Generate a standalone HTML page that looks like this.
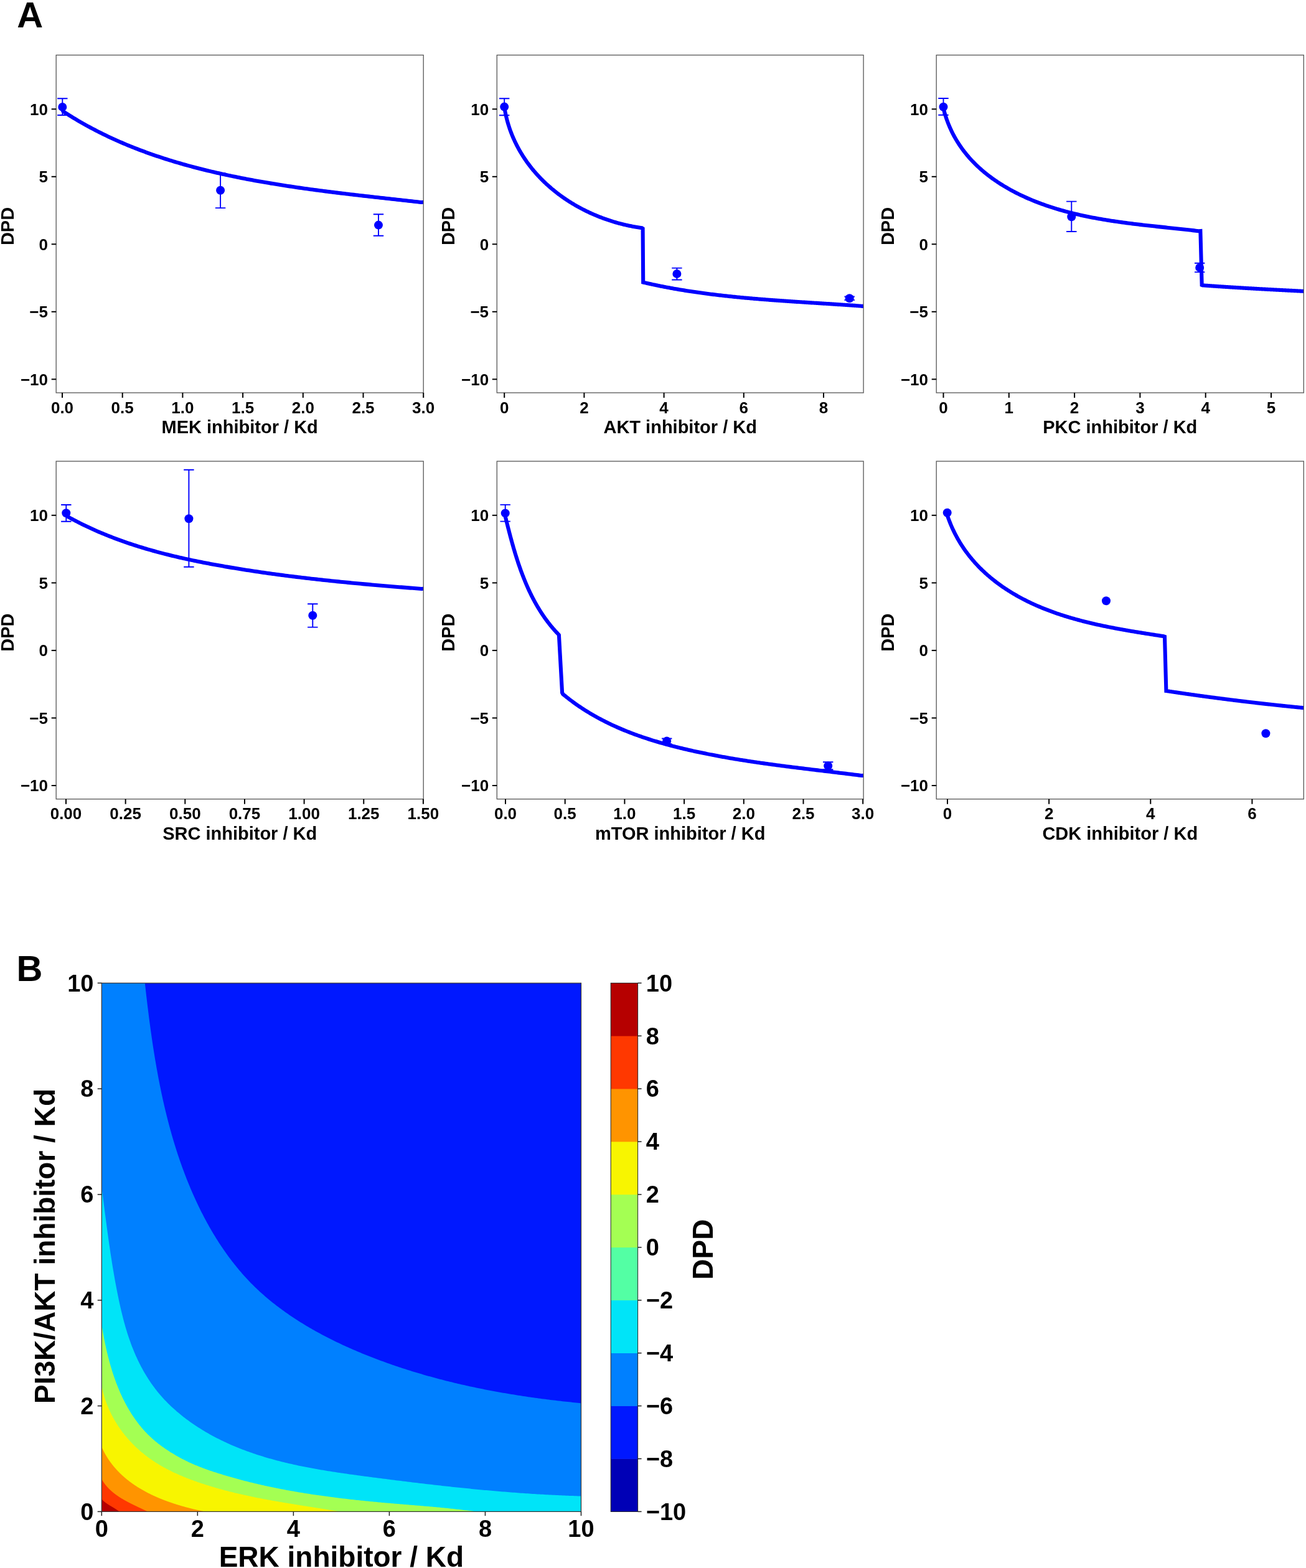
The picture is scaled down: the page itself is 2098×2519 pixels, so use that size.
<!DOCTYPE html>
<html><head><meta charset="utf-8"><title>DPD figure</title>
<style>html,body{margin:0;padding:0;background:#fff;} svg{display:block;}</style></head>
<body><svg width="2098" height="2519" viewBox="0 0 2098 2519">
<rect width="2098" height="2519" fill="#fff"/>
<g>
<clipPath id="clip00"><rect x="90.2" y="88.5" width="590" height="542.5"/></clipPath>
<path clip-path="url(#clip00)" d="M100 176 L101.43 178.92 L104.01 180.6 L106.6 182.27 L109.2 183.92 L111.8 185.56 L114.41 187.18 L117.03 188.79 L119.65 190.38 L122.28 191.96 L124.91 193.52 L127.55 195.06 L130.2 196.59 L132.86 198.11 L135.52 199.61 L138.18 201.1 L140.85 202.57 L143.53 204.03 L146.22 205.48 L148.91 206.91 L151.6 208.32 L154.3 209.72 L157.01 211.11 L159.72 212.49 L162.44 213.85 L165.17 215.2 L167.9 216.53 L170.63 217.85 L173.37 219.16 L176.12 220.45 L178.87 221.73 L181.63 223 L184.39 224.26 L187.16 225.5 L189.93 226.73 L192.7 227.94 L195.49 229.15 L198.27 230.34 L201.07 231.52 L203.86 232.69 L206.66 233.84 L209.47 234.99 L212.28 236.12 L215.09 237.24 L217.91 238.35 L220.74 239.44 L223.57 240.53 L226.4 241.6 L229.24 242.66 L232.08 243.72 L234.93 244.76 L237.78 245.78 L240.63 246.8 L243.49 247.81 L246.35 248.81 L249.22 249.79 L252.09 250.77 L254.96 251.73 L257.84 252.69 L260.72 253.63 L263.61 254.56 L266.49 255.49 L269.39 256.4 L272.28 257.31 L275.18 258.2 L278.08 259.08 L280.99 259.96 L283.9 260.82 L286.81 261.68 L289.73 262.53 L292.65 263.37 L295.57 264.19 L298.5 265.01 L301.42 265.82 L304.35 266.63 L307.29 267.42 L310.23 268.2 L313.17 268.98 L316.11 269.75 L319.05 270.51 L322 271.26 L324.95 272 L327.9 272.74 L330.86 273.46 L333.82 274.18 L336.78 274.9 L339.74 275.6 L342.7 276.3 L345.67 276.99 L348.64 277.67 L351.61 278.34 L354.58 279.01 L357.56 279.67 L360.53 280.32 L363.51 280.97 L366.49 281.61 L369.47 282.24 L372.46 282.87 L375.44 283.49 L378.43 284.1 L381.42 284.71 L384.41 285.31 L387.4 285.9 L390.4 286.49 L393.39 287.07 L396.39 287.65 L399.39 288.22 L402.39 288.78 L405.39 289.34 L408.39 289.89 L411.39 290.44 L414.4 290.98 L417.41 291.51 L420.41 292.04 L423.42 292.57 L426.43 293.09 L429.44 293.6 L432.46 294.11 L435.47 294.62 L438.48 295.11 L441.5 295.61 L444.51 296.1 L447.53 296.58 L450.55 297.06 L453.57 297.54 L456.59 298.01 L459.61 298.47 L462.63 298.93 L465.65 299.39 L468.67 299.84 L471.69 300.29 L474.72 300.74 L477.74 301.18 L480.76 301.61 L483.79 302.04 L486.81 302.47 L489.84 302.9 L492.87 303.32 L495.89 303.74 L498.92 304.15 L501.95 304.56 L504.97 304.97 L508 305.37 L511.03 305.77 L514.06 306.17 L517.08 306.57 L520.11 306.96 L523.14 307.35 L526.17 307.73 L529.19 308.11 L532.22 308.49 L535.25 308.87 L538.27 309.25 L541.3 309.62 L544.33 309.99 L547.35 310.36 L550.38 310.72 L553.41 311.09 L556.43 311.45 L559.46 311.81 L562.48 312.16 L565.5 312.52 L568.53 312.87 L571.55 313.22 L574.57 313.58 L577.59 313.92 L580.61 314.27 L583.63 314.62 L586.65 314.96 L589.67 315.3 L592.69 315.64 L595.71 315.99 L598.72 316.32 L601.74 316.66 L604.75 317 L607.77 317.34 L610.78 317.67 L613.79 318.01 L616.8 318.34 L619.81 318.68 L622.82 319.01 L625.82 319.34 L628.83 319.68 L631.83 320.01 L634.84 320.34 L637.84 320.67 L640.84 321.01 L643.83 321.34 L646.83 321.67 L649.83 322 L652.82 322.34 L655.81 322.67 L658.81 323 L661.79 323.34 L664.78 323.67 L667.77 324.01 L670.75 324.34 L673.73 324.68 L676.72 325.02 L680.2 324.8" fill="none" stroke="#0000ff" stroke-width="6.1" stroke-linejoin="miter" stroke-linecap="butt"/>
<path d="M100.3 158.3 V185 M92.1 158.3 H108.5 M92.1 185 H108.5" stroke="#0000ff" stroke-width="1.9" fill="none"/>
<circle cx="100.3" cy="171.9" r="7" fill="#0000ff"/>
<path d="M354.1 278.2 V334.1 M345.9 278.2 H362.3 M345.9 334.1 H362.3" stroke="#0000ff" stroke-width="1.9" fill="none"/>
<circle cx="354.1" cy="305.7" r="7" fill="#0000ff"/>
<path d="M608 344.2 V378.7 M599.8 344.2 H616.2 M599.8 378.7 H616.2" stroke="#0000ff" stroke-width="1.9" fill="none"/>
<circle cx="608" cy="361.6" r="7" fill="#0000ff"/>
<rect x="90.2" y="88.5" width="590" height="542.5" fill="none" stroke="#555" stroke-width="1.3"/>
<line x1="82.7" y1="175.3" x2="90.2" y2="175.3" stroke="#000" stroke-width="2"/>
<text x="77" y="184.5" text-anchor="end" style="font-family:'Liberation Sans',Arial,sans-serif;font-weight:bold;font-size:26px">10</text>
<line x1="82.7" y1="283.8" x2="90.2" y2="283.8" stroke="#000" stroke-width="2"/>
<text x="77" y="293" text-anchor="end" style="font-family:'Liberation Sans',Arial,sans-serif;font-weight:bold;font-size:26px">5</text>
<line x1="82.7" y1="392.3" x2="90.2" y2="392.3" stroke="#000" stroke-width="2"/>
<text x="77" y="401.5" text-anchor="end" style="font-family:'Liberation Sans',Arial,sans-serif;font-weight:bold;font-size:26px">0</text>
<line x1="82.7" y1="500.8" x2="90.2" y2="500.8" stroke="#000" stroke-width="2"/>
<text x="77" y="510" text-anchor="end" style="font-family:'Liberation Sans',Arial,sans-serif;font-weight:bold;font-size:26px">−5</text>
<line x1="82.7" y1="609.3" x2="90.2" y2="609.3" stroke="#000" stroke-width="2"/>
<text x="77" y="618.5" text-anchor="end" style="font-family:'Liberation Sans',Arial,sans-serif;font-weight:bold;font-size:26px">−10</text>
<line x1="100" y1="631" x2="100" y2="639" stroke="#000" stroke-width="2"/>
<text x="100" y="663.5" text-anchor="middle" style="font-family:'Liberation Sans',Arial,sans-serif;font-weight:bold;font-size:26px">0.0</text>
<line x1="196.7" y1="631" x2="196.7" y2="639" stroke="#000" stroke-width="2"/>
<text x="196.7" y="663.5" text-anchor="middle" style="font-family:'Liberation Sans',Arial,sans-serif;font-weight:bold;font-size:26px">0.5</text>
<line x1="293.4" y1="631" x2="293.4" y2="639" stroke="#000" stroke-width="2"/>
<text x="293.4" y="663.5" text-anchor="middle" style="font-family:'Liberation Sans',Arial,sans-serif;font-weight:bold;font-size:26px">1.0</text>
<line x1="390.1" y1="631" x2="390.1" y2="639" stroke="#000" stroke-width="2"/>
<text x="390.1" y="663.5" text-anchor="middle" style="font-family:'Liberation Sans',Arial,sans-serif;font-weight:bold;font-size:26px">1.5</text>
<line x1="486.8" y1="631" x2="486.8" y2="639" stroke="#000" stroke-width="2"/>
<text x="486.8" y="663.5" text-anchor="middle" style="font-family:'Liberation Sans',Arial,sans-serif;font-weight:bold;font-size:26px">2.0</text>
<line x1="583.5" y1="631" x2="583.5" y2="639" stroke="#000" stroke-width="2"/>
<text x="583.5" y="663.5" text-anchor="middle" style="font-family:'Liberation Sans',Arial,sans-serif;font-weight:bold;font-size:26px">2.5</text>
<line x1="680.2" y1="631" x2="680.2" y2="639" stroke="#000" stroke-width="2"/>
<text x="680.2" y="663.5" text-anchor="middle" style="font-family:'Liberation Sans',Arial,sans-serif;font-weight:bold;font-size:26px">3.0</text>
<text x="385.2" y="696" text-anchor="middle" style="font-family:'Liberation Sans',Arial,sans-serif;font-weight:bold;font-size:29px">MEK inhibitor / Kd</text>
<text transform="translate(22.1 363.5) rotate(-90)" text-anchor="middle" style="font-family:'Liberation Sans',Arial,sans-serif;font-weight:bold;font-size:29px">DPD</text>
</g>
<g>
<clipPath id="clip01"><rect x="798.3" y="88.5" width="588.8" height="542.5"/></clipPath>
<path clip-path="url(#clip01)" d="M810.2 175.5 L810.96 176.54 L811.25 178.15 L811.56 179.76 L811.87 181.36 L812.2 182.95 L812.55 184.54 L812.9 186.12 L813.27 187.7 L813.65 189.27 L814.04 190.84 L814.44 192.4 L814.85 193.95 L815.28 195.5 L815.72 197.05 L816.17 198.58 L816.63 200.12 L817.1 201.64 L817.59 203.17 L818.08 204.68 L818.59 206.19 L819.11 207.69 L819.64 209.19 L820.18 210.69 L820.74 212.17 L821.3 213.65 L821.87 215.13 L822.46 216.6 L823.06 218.06 L823.66 219.52 L824.28 220.97 L824.91 222.42 L825.55 223.86 L826.2 225.29 L826.86 226.72 L827.53 228.14 L828.21 229.55 L828.91 230.96 L829.61 232.37 L830.32 233.76 L831.04 235.16 L831.78 236.54 L832.52 237.92 L833.27 239.29 L834.03 240.66 L834.81 242.02 L835.59 243.37 L836.38 244.72 L837.18 246.06 L837.99 247.4 L838.82 248.73 L839.65 250.05 L840.49 251.37 L841.34 252.68 L842.19 253.98 L843.06 255.28 L843.94 256.57 L844.82 257.85 L845.72 259.13 L846.62 260.4 L847.54 261.67 L848.46 262.92 L849.39 264.18 L850.33 265.42 L851.28 266.66 L852.23 267.89 L853.2 269.12 L854.17 270.34 L855.15 271.55 L856.14 272.75 L857.14 273.95 L858.15 275.14 L859.16 276.33 L860.19 277.51 L861.22 278.68 L862.26 279.84 L863.3 281 L864.36 282.15 L865.42 283.3 L866.49 284.43 L867.57 285.56 L868.66 286.69 L869.75 287.8 L870.85 288.91 L871.96 290.02 L873.07 291.11 L874.2 292.2 L875.33 293.28 L876.47 294.36 L877.61 295.42 L878.76 296.49 L879.92 297.54 L881.09 298.58 L882.26 299.62 L883.44 300.66 L884.62 301.68 L885.82 302.7 L887.02 303.71 L888.22 304.71 L889.43 305.71 L890.65 306.69 L891.88 307.68 L893.11 308.65 L894.35 309.62 L895.59 310.57 L896.84 311.53 L898.1 312.47 L899.36 313.41 L900.63 314.34 L901.9 315.26 L903.18 316.17 L904.47 317.08 L905.76 317.98 L907.05 318.87 L908.36 319.76 L909.66 320.64 L910.98 321.51 L912.29 322.37 L913.62 323.22 L914.95 324.07 L916.28 324.91 L917.62 325.74 L918.97 326.57 L920.32 327.38 L921.67 328.19 L923.03 329 L924.39 329.79 L925.76 330.58 L927.14 331.36 L928.51 332.13 L929.9 332.89 L931.28 333.65 L932.67 334.4 L934.07 335.14 L935.47 335.87 L936.87 336.59 L938.28 337.31 L939.7 338.02 L941.11 338.72 L942.53 339.42 L943.96 340.1 L945.39 340.78 L946.82 341.45 L948.25 342.12 L949.69 342.77 L951.14 343.42 L952.58 344.06 L954.03 344.69 L955.49 345.31 L956.95 345.93 L958.41 346.54 L959.87 347.14 L961.34 347.73 L962.81 348.31 L964.28 348.89 L965.76 349.46 L967.23 350.02 L968.72 350.57 L970.2 351.11 L971.69 351.65 L973.18 352.18 L974.67 352.7 L976.16 353.21 L977.66 353.71 L979.16 354.21 L980.66 354.7 L982.17 355.18 L983.68 355.65 L985.18 356.11 L986.7 356.57 L988.21 357.01 L989.72 357.45 L991.24 357.88 L992.76 358.31 L994.28 358.72 L995.8 359.13 L997.33 359.52 L998.85 359.91 L1000.38 360.3 L1001.91 360.67 L1003.44 361.03 L1004.97 361.39 L1006.5 361.74 L1008.03 362.08 L1009.57 362.41 L1011.11 362.73 L1012.64 363.05 L1014.18 363.35 L1015.72 363.65 L1017.26 363.94 L1018.8 364.22 L1020.34 364.5 L1021.88 364.76 L1023.43 365.02 L1024.97 365.26 L1026.51 365.5 L1028.06 365.73 L1029.6 365.96 L1031.14 366.17 L1032.6 367.2 L1033.2 453.6 L1034.94 453.98 L1036.69 454.38 L1038.44 454.78 L1040.19 455.18 L1041.94 455.57 L1043.69 455.96 L1045.44 456.35 L1047.19 456.73 L1048.94 457.11 L1050.7 457.48 L1052.45 457.85 L1054.2 458.22 L1055.96 458.59 L1057.71 458.95 L1059.47 459.3 L1061.22 459.66 L1062.98 460.01 L1064.74 460.36 L1066.5 460.7 L1068.25 461.04 L1070.01 461.38 L1071.77 461.71 L1073.53 462.04 L1075.29 462.37 L1077.05 462.69 L1078.81 463.02 L1080.57 463.33 L1082.34 463.65 L1084.1 463.96 L1085.86 464.27 L1087.63 464.58 L1089.39 464.88 L1091.15 465.18 L1092.92 465.48 L1094.68 465.77 L1096.45 466.06 L1098.22 466.35 L1099.98 466.63 L1101.75 466.92 L1103.52 467.2 L1105.28 467.47 L1107.05 467.75 L1108.82 468.02 L1110.59 468.29 L1112.36 468.55 L1114.13 468.82 L1115.9 469.08 L1117.67 469.33 L1119.44 469.59 L1121.21 469.84 L1122.98 470.09 L1124.76 470.34 L1126.53 470.58 L1128.3 470.83 L1130.07 471.07 L1131.85 471.3 L1133.62 471.54 L1135.4 471.77 L1137.17 472 L1138.94 472.23 L1140.72 472.45 L1142.5 472.68 L1144.27 472.9 L1146.05 473.12 L1147.82 473.33 L1149.6 473.55 L1151.38 473.76 L1153.15 473.97 L1154.93 474.18 L1156.71 474.38 L1158.49 474.59 L1160.27 474.79 L1162.05 474.99 L1163.83 475.19 L1165.6 475.38 L1167.38 475.58 L1169.16 475.77 L1170.94 475.96 L1172.72 476.15 L1174.51 476.33 L1176.29 476.52 L1178.07 476.7 L1179.85 476.88 L1181.63 477.06 L1183.41 477.23 L1185.2 477.41 L1186.98 477.58 L1188.76 477.75 L1190.54 477.92 L1192.33 478.09 L1194.11 478.26 L1195.89 478.42 L1197.68 478.59 L1199.46 478.75 L1201.24 478.91 L1203.03 479.07 L1204.81 479.23 L1206.6 479.38 L1208.38 479.54 L1210.17 479.69 L1211.95 479.84 L1213.74 480 L1215.52 480.15 L1217.31 480.29 L1219.09 480.44 L1220.88 480.59 L1222.67 480.73 L1224.45 480.87 L1226.24 481.02 L1228.03 481.16 L1229.81 481.3 L1231.6 481.43 L1233.39 481.57 L1235.17 481.71 L1236.96 481.84 L1238.75 481.98 L1240.53 482.11 L1242.32 482.24 L1244.11 482.38 L1245.9 482.51 L1247.68 482.64 L1249.47 482.76 L1251.26 482.89 L1253.05 483.02 L1254.83 483.15 L1256.62 483.27 L1258.41 483.4 L1260.2 483.52 L1261.99 483.64 L1263.78 483.77 L1265.56 483.89 L1267.35 484.01 L1269.14 484.13 L1270.93 484.25 L1272.72 484.37 L1274.51 484.49 L1276.29 484.61 L1278.08 484.73 L1279.87 484.84 L1281.66 484.96 L1283.45 485.08 L1285.24 485.19 L1287.02 485.31 L1288.81 485.43 L1290.6 485.54 L1292.39 485.66 L1294.18 485.77 L1295.97 485.88 L1297.76 486 L1299.54 486.11 L1301.33 486.23 L1303.12 486.34 L1304.91 486.45 L1306.7 486.57 L1308.48 486.68 L1310.27 486.79 L1312.06 486.91 L1313.85 487.02 L1315.64 487.13 L1317.42 487.25 L1319.21 487.36 L1321 487.48 L1322.79 487.59 L1324.57 487.7 L1326.36 487.82 L1328.15 487.93 L1329.94 488.04 L1331.72 488.16 L1333.51 488.27 L1335.3 488.39 L1337.08 488.5 L1338.87 488.62 L1340.66 488.74 L1342.44 488.85 L1344.23 488.97 L1346.02 489.09 L1347.8 489.2 L1349.59 489.32 L1351.37 489.44 L1353.16 489.56 L1354.94 489.68 L1356.73 489.8 L1358.51 489.92 L1360.3 490.04 L1362.08 490.16 L1363.87 490.29 L1365.65 490.41 L1367.44 490.53 L1369.22 490.66 L1371 490.78 L1372.79 490.91 L1374.57 491.04 L1376.35 491.17 L1378.14 491.3 L1379.92 491.42 L1381.7 491.56 L1383.48 491.69 L1385.27 491.82 L1387.1 491.6" fill="none" stroke="#0000ff" stroke-width="6.1" stroke-linejoin="miter" stroke-linecap="butt"/>
<path d="M810.2 158.3 V185.2 M802 158.3 H818.4 M802 185.2 H818.4" stroke="#0000ff" stroke-width="1.9" fill="none"/>
<circle cx="810.2" cy="171.6" r="7" fill="#0000ff"/>
<path d="M1087.4 430.6 V449.5 M1079.2 430.6 H1095.6 M1079.2 449.5 H1095.6" stroke="#0000ff" stroke-width="1.9" fill="none"/>
<circle cx="1087.4" cy="439.9" r="7" fill="#0000ff"/>
<path d="M1364.7 476.5 V482 M1356.5 476.5 H1372.9 M1356.5 482 H1372.9" stroke="#0000ff" stroke-width="1.9" fill="none"/>
<circle cx="1364.7" cy="479.2" r="7" fill="#0000ff"/>
<rect x="798.3" y="88.5" width="588.8" height="542.5" fill="none" stroke="#555" stroke-width="1.3"/>
<line x1="790.8" y1="175.3" x2="798.3" y2="175.3" stroke="#000" stroke-width="2"/>
<text x="785.1" y="184.5" text-anchor="end" style="font-family:'Liberation Sans',Arial,sans-serif;font-weight:bold;font-size:26px">10</text>
<line x1="790.8" y1="283.8" x2="798.3" y2="283.8" stroke="#000" stroke-width="2"/>
<text x="785.1" y="293" text-anchor="end" style="font-family:'Liberation Sans',Arial,sans-serif;font-weight:bold;font-size:26px">5</text>
<line x1="790.8" y1="392.3" x2="798.3" y2="392.3" stroke="#000" stroke-width="2"/>
<text x="785.1" y="401.5" text-anchor="end" style="font-family:'Liberation Sans',Arial,sans-serif;font-weight:bold;font-size:26px">0</text>
<line x1="790.8" y1="500.8" x2="798.3" y2="500.8" stroke="#000" stroke-width="2"/>
<text x="785.1" y="510" text-anchor="end" style="font-family:'Liberation Sans',Arial,sans-serif;font-weight:bold;font-size:26px">−5</text>
<line x1="790.8" y1="609.3" x2="798.3" y2="609.3" stroke="#000" stroke-width="2"/>
<text x="785.1" y="618.5" text-anchor="end" style="font-family:'Liberation Sans',Arial,sans-serif;font-weight:bold;font-size:26px">−10</text>
<line x1="810.2" y1="631" x2="810.2" y2="639" stroke="#000" stroke-width="2"/>
<text x="810.2" y="663.5" text-anchor="middle" style="font-family:'Liberation Sans',Arial,sans-serif;font-weight:bold;font-size:26px">0</text>
<line x1="938.4" y1="631" x2="938.4" y2="639" stroke="#000" stroke-width="2"/>
<text x="938.4" y="663.5" text-anchor="middle" style="font-family:'Liberation Sans',Arial,sans-serif;font-weight:bold;font-size:26px">2</text>
<line x1="1066.6" y1="631" x2="1066.6" y2="639" stroke="#000" stroke-width="2"/>
<text x="1066.6" y="663.5" text-anchor="middle" style="font-family:'Liberation Sans',Arial,sans-serif;font-weight:bold;font-size:26px">4</text>
<line x1="1194.8" y1="631" x2="1194.8" y2="639" stroke="#000" stroke-width="2"/>
<text x="1194.8" y="663.5" text-anchor="middle" style="font-family:'Liberation Sans',Arial,sans-serif;font-weight:bold;font-size:26px">6</text>
<line x1="1323" y1="631" x2="1323" y2="639" stroke="#000" stroke-width="2"/>
<text x="1323" y="663.5" text-anchor="middle" style="font-family:'Liberation Sans',Arial,sans-serif;font-weight:bold;font-size:26px">8</text>
<text x="1092.7" y="696" text-anchor="middle" style="font-family:'Liberation Sans',Arial,sans-serif;font-weight:bold;font-size:29px">AKT inhibitor / Kd</text>
<text transform="translate(730.2 363.5) rotate(-90)" text-anchor="middle" style="font-family:'Liberation Sans',Arial,sans-serif;font-weight:bold;font-size:29px">DPD</text>
</g>
<g>
<clipPath id="clip02"><rect x="1504.2" y="88.5" width="590.1" height="542.5"/></clipPath>
<path clip-path="url(#clip02)" d="M1515.5 175.5 L1516.31 176.94 L1516.99 179.5 L1517.7 182.03 L1518.44 184.53 L1519.22 187.01 L1520.02 189.47 L1520.86 191.91 L1521.72 194.33 L1522.62 196.72 L1523.54 199.09 L1524.5 201.43 L1525.48 203.76 L1526.49 206.06 L1527.53 208.34 L1528.6 210.6 L1529.69 212.84 L1530.81 215.05 L1531.96 217.25 L1533.14 219.42 L1534.34 221.57 L1535.57 223.7 L1536.82 225.8 L1538.1 227.89 L1539.4 229.95 L1540.73 232 L1542.09 234.02 L1543.47 236.02 L1544.87 238.01 L1546.29 239.97 L1547.74 241.91 L1549.21 243.83 L1550.71 245.73 L1552.23 247.61 L1553.77 249.47 L1555.33 251.31 L1556.91 253.13 L1558.51 254.93 L1560.14 256.71 L1561.78 258.47 L1563.45 260.21 L1565.13 261.93 L1566.84 263.63 L1568.56 265.32 L1570.31 266.98 L1572.07 268.63 L1573.85 270.25 L1575.65 271.86 L1577.47 273.45 L1579.3 275.02 L1581.15 276.58 L1583.02 278.11 L1584.91 279.62 L1586.81 281.12 L1588.72 282.6 L1590.66 284.06 L1592.61 285.51 L1594.57 286.93 L1596.55 288.34 L1598.54 289.73 L1600.55 291.11 L1602.57 292.46 L1604.6 293.8 L1606.65 295.12 L1608.71 296.43 L1610.79 297.71 L1612.87 298.98 L1614.97 300.24 L1617.08 301.48 L1619.2 302.7 L1621.33 303.9 L1623.47 305.09 L1625.63 306.26 L1627.79 307.42 L1629.96 308.56 L1632.15 309.68 L1634.34 310.79 L1636.54 311.88 L1638.75 312.96 L1640.97 314.02 L1643.2 315.06 L1645.43 316.09 L1647.67 317.11 L1649.92 318.11 L1652.18 319.09 L1654.44 320.06 L1656.71 321.02 L1658.98 321.96 L1661.26 322.88 L1663.55 323.8 L1665.84 324.69 L1668.13 325.58 L1670.43 326.44 L1672.74 327.3 L1675.05 328.14 L1677.36 328.97 L1679.68 329.78 L1682 330.58 L1684.33 331.37 L1686.66 332.14 L1688.99 332.9 L1691.33 333.65 L1693.67 334.39 L1696.02 335.11 L1698.37 335.82 L1700.72 336.52 L1703.07 337.21 L1705.43 337.88 L1707.8 338.54 L1710.17 339.2 L1712.54 339.84 L1714.91 340.47 L1717.29 341.09 L1719.67 341.7 L1722.05 342.29 L1724.43 342.88 L1726.82 343.46 L1729.21 344.03 L1731.61 344.58 L1734 345.13 L1736.4 345.67 L1738.81 346.2 L1741.21 346.71 L1743.62 347.22 L1746.02 347.72 L1748.44 348.22 L1750.85 348.7 L1753.26 349.17 L1755.68 349.64 L1758.1 350.1 L1760.52 350.55 L1762.94 350.99 L1765.37 351.43 L1767.8 351.85 L1770.22 352.27 L1772.65 352.69 L1775.08 353.09 L1777.51 353.49 L1779.95 353.88 L1782.38 354.27 L1784.82 354.65 L1787.25 355.02 L1789.69 355.39 L1792.13 355.75 L1794.57 356.1 L1797.01 356.45 L1799.45 356.79 L1801.89 357.13 L1804.34 357.47 L1806.78 357.8 L1809.22 358.12 L1811.66 358.44 L1814.11 358.75 L1816.55 359.07 L1819 359.37 L1821.44 359.67 L1823.88 359.97 L1826.33 360.27 L1828.77 360.56 L1831.22 360.85 L1833.66 361.13 L1836.1 361.42 L1838.54 361.7 L1840.99 361.97 L1843.43 362.25 L1845.87 362.52 L1848.31 362.79 L1850.75 363.06 L1853.19 363.32 L1855.62 363.59 L1858.06 363.85 L1860.49 364.11 L1862.93 364.37 L1865.36 364.63 L1867.79 364.89 L1870.22 365.15 L1872.65 365.4 L1875.08 365.66 L1877.5 365.92 L1879.93 366.17 L1882.35 366.43 L1884.77 366.69 L1887.19 366.94 L1889.6 367.2 L1892.02 367.46 L1894.43 367.72 L1896.84 367.98 L1899.25 368.24 L1901.65 368.5 L1904.06 368.77 L1906.46 369.03 L1908.86 369.3 L1911.25 369.57 L1913.65 369.84 L1916.04 370.12 L1918.42 370.4 L1920.81 370.68 L1923.19 370.96 L1925.57 371.24 L1928.4 371 L1930.7 458 L1931.5 458.31 L1932.32 458.37 L1933.14 458.43 L1933.96 458.49 L1934.78 458.55 L1935.61 458.61 L1936.43 458.67 L1937.25 458.73 L1938.07 458.79 L1938.89 458.85 L1939.71 458.91 L1940.53 458.97 L1941.35 459.03 L1942.17 459.09 L1943 459.14 L1943.82 459.2 L1944.64 459.26 L1945.46 459.32 L1946.28 459.38 L1947.1 459.43 L1947.92 459.49 L1948.75 459.55 L1949.57 459.6 L1950.39 459.66 L1951.21 459.72 L1952.03 459.77 L1952.85 459.83 L1953.67 459.89 L1954.5 459.94 L1955.32 460 L1956.14 460.06 L1956.96 460.11 L1957.78 460.17 L1958.6 460.22 L1959.43 460.28 L1960.25 460.33 L1961.07 460.39 L1961.89 460.44 L1962.71 460.49 L1963.53 460.55 L1964.36 460.6 L1965.18 460.66 L1966 460.71 L1966.82 460.76 L1967.64 460.82 L1968.46 460.87 L1969.29 460.93 L1970.11 460.98 L1970.93 461.03 L1971.75 461.08 L1972.57 461.14 L1973.4 461.19 L1974.22 461.24 L1975.04 461.29 L1975.86 461.35 L1976.68 461.4 L1977.51 461.45 L1978.33 461.5 L1979.15 461.55 L1979.97 461.6 L1980.79 461.66 L1981.62 461.71 L1982.44 461.76 L1983.26 461.81 L1984.08 461.86 L1984.9 461.91 L1985.73 461.96 L1986.55 462.01 L1987.37 462.06 L1988.19 462.11 L1989.02 462.16 L1989.84 462.21 L1990.66 462.26 L1991.48 462.31 L1992.3 462.36 L1993.13 462.41 L1993.95 462.46 L1994.77 462.51 L1995.59 462.56 L1996.42 462.61 L1997.24 462.66 L1998.06 462.7 L1998.88 462.75 L1999.71 462.8 L2000.53 462.85 L2001.35 462.9 L2002.17 462.95 L2002.99 462.99 L2003.82 463.04 L2004.64 463.09 L2005.46 463.14 L2006.28 463.19 L2007.11 463.23 L2007.93 463.28 L2008.75 463.33 L2009.57 463.38 L2010.4 463.42 L2011.22 463.47 L2012.04 463.52 L2012.86 463.56 L2013.69 463.61 L2014.51 463.66 L2015.33 463.7 L2016.15 463.75 L2016.98 463.8 L2017.8 463.84 L2018.62 463.89 L2019.44 463.94 L2020.27 463.98 L2021.09 464.03 L2021.91 464.07 L2022.73 464.12 L2023.56 464.17 L2024.38 464.21 L2025.2 464.26 L2026.02 464.3 L2026.85 464.35 L2027.67 464.39 L2028.49 464.44 L2029.31 464.48 L2030.14 464.53 L2030.96 464.57 L2031.78 464.62 L2032.6 464.66 L2033.43 464.71 L2034.25 464.75 L2035.07 464.8 L2035.9 464.84 L2036.72 464.89 L2037.54 464.93 L2038.36 464.97 L2039.19 465.02 L2040.01 465.06 L2040.83 465.11 L2041.65 465.15 L2042.48 465.2 L2043.3 465.24 L2044.12 465.28 L2044.94 465.33 L2045.77 465.37 L2046.59 465.42 L2047.41 465.46 L2048.23 465.5 L2049.06 465.55 L2049.88 465.59 L2050.7 465.63 L2051.52 465.68 L2052.35 465.72 L2053.17 465.76 L2053.99 465.81 L2054.81 465.85 L2055.64 465.89 L2056.46 465.94 L2057.28 465.98 L2058.11 466.02 L2058.93 466.07 L2059.75 466.11 L2060.57 466.15 L2061.4 466.19 L2062.22 466.24 L2063.04 466.28 L2063.86 466.32 L2064.69 466.37 L2065.51 466.41 L2066.33 466.45 L2067.15 466.49 L2067.98 466.54 L2068.8 466.58 L2069.62 466.62 L2070.44 466.66 L2071.27 466.71 L2072.09 466.75 L2072.91 466.79 L2073.73 466.83 L2074.56 466.88 L2075.38 466.92 L2076.2 466.96 L2077.02 467 L2077.85 467.05 L2078.67 467.09 L2079.49 467.13 L2080.31 467.17 L2081.14 467.22 L2081.96 467.26 L2082.78 467.3 L2083.6 467.34 L2084.43 467.38 L2085.25 467.43 L2086.07 467.47 L2086.89 467.51 L2087.72 467.55 L2088.54 467.59 L2089.36 467.64 L2090.18 467.68 L2091 467.72 L2091.83 467.76 L2092.65 467.81 L2093.47 467.85 L2094.3 467.8" fill="none" stroke="#0000ff" stroke-width="6.1" stroke-linejoin="miter" stroke-linecap="butt"/>
<path d="M1515.5 158 V184.7 M1507.3 158 H1523.7 M1507.3 184.7 H1523.7" stroke="#0000ff" stroke-width="1.9" fill="none"/>
<circle cx="1515.5" cy="171.7" r="7" fill="#0000ff"/>
<path d="M1721.3 323.6 V372 M1713.1 323.6 H1729.5 M1713.1 372 H1729.5" stroke="#0000ff" stroke-width="1.9" fill="none"/>
<circle cx="1721.3" cy="348.3" r="7" fill="#0000ff"/>
<path d="M1927.2 422.7 V437.1 M1919 422.7 H1935.4 M1919 437.1 H1935.4" stroke="#0000ff" stroke-width="1.9" fill="none"/>
<circle cx="1927.2" cy="429.9" r="7" fill="#0000ff"/>
<rect x="1504.2" y="88.5" width="590.1" height="542.5" fill="none" stroke="#555" stroke-width="1.3"/>
<line x1="1496.7" y1="175.3" x2="1504.2" y2="175.3" stroke="#000" stroke-width="2"/>
<text x="1491" y="184.5" text-anchor="end" style="font-family:'Liberation Sans',Arial,sans-serif;font-weight:bold;font-size:26px">10</text>
<line x1="1496.7" y1="283.8" x2="1504.2" y2="283.8" stroke="#000" stroke-width="2"/>
<text x="1491" y="293" text-anchor="end" style="font-family:'Liberation Sans',Arial,sans-serif;font-weight:bold;font-size:26px">5</text>
<line x1="1496.7" y1="392.3" x2="1504.2" y2="392.3" stroke="#000" stroke-width="2"/>
<text x="1491" y="401.5" text-anchor="end" style="font-family:'Liberation Sans',Arial,sans-serif;font-weight:bold;font-size:26px">0</text>
<line x1="1496.7" y1="500.8" x2="1504.2" y2="500.8" stroke="#000" stroke-width="2"/>
<text x="1491" y="510" text-anchor="end" style="font-family:'Liberation Sans',Arial,sans-serif;font-weight:bold;font-size:26px">−5</text>
<line x1="1496.7" y1="609.3" x2="1504.2" y2="609.3" stroke="#000" stroke-width="2"/>
<text x="1491" y="618.5" text-anchor="end" style="font-family:'Liberation Sans',Arial,sans-serif;font-weight:bold;font-size:26px">−10</text>
<line x1="1515.5" y1="631" x2="1515.5" y2="639" stroke="#000" stroke-width="2"/>
<text x="1515.5" y="663.5" text-anchor="middle" style="font-family:'Liberation Sans',Arial,sans-serif;font-weight:bold;font-size:26px">0</text>
<line x1="1620.8" y1="631" x2="1620.8" y2="639" stroke="#000" stroke-width="2"/>
<text x="1620.8" y="663.5" text-anchor="middle" style="font-family:'Liberation Sans',Arial,sans-serif;font-weight:bold;font-size:26px">1</text>
<line x1="1726.1" y1="631" x2="1726.1" y2="639" stroke="#000" stroke-width="2"/>
<text x="1726.1" y="663.5" text-anchor="middle" style="font-family:'Liberation Sans',Arial,sans-serif;font-weight:bold;font-size:26px">2</text>
<line x1="1831.4" y1="631" x2="1831.4" y2="639" stroke="#000" stroke-width="2"/>
<text x="1831.4" y="663.5" text-anchor="middle" style="font-family:'Liberation Sans',Arial,sans-serif;font-weight:bold;font-size:26px">3</text>
<line x1="1936.7" y1="631" x2="1936.7" y2="639" stroke="#000" stroke-width="2"/>
<text x="1936.7" y="663.5" text-anchor="middle" style="font-family:'Liberation Sans',Arial,sans-serif;font-weight:bold;font-size:26px">4</text>
<line x1="2042" y1="631" x2="2042" y2="639" stroke="#000" stroke-width="2"/>
<text x="2042" y="663.5" text-anchor="middle" style="font-family:'Liberation Sans',Arial,sans-serif;font-weight:bold;font-size:26px">5</text>
<text x="1799.25" y="696" text-anchor="middle" style="font-family:'Liberation Sans',Arial,sans-serif;font-weight:bold;font-size:29px">PKC inhibitor / Kd</text>
<text transform="translate(1436.1 363.5) rotate(-90)" text-anchor="middle" style="font-family:'Liberation Sans',Arial,sans-serif;font-weight:bold;font-size:29px">DPD</text>
</g>
<g>
<clipPath id="clip10"><rect x="90.2" y="741" width="590" height="542.7"/></clipPath>
<path clip-path="url(#clip10)" d="M106 828 L108.24 829.69 L110.87 831.14 L113.49 832.58 L116.13 834 L118.77 835.4 L121.41 836.79 L124.07 838.16 L126.72 839.52 L129.39 840.86 L132.06 842.18 L134.73 843.49 L137.41 844.78 L140.1 846.06 L142.79 847.33 L145.48 848.57 L148.18 849.81 L150.89 851.03 L153.6 852.23 L156.32 853.42 L159.04 854.6 L161.77 855.76 L164.5 856.91 L167.24 858.04 L169.98 859.16 L172.73 860.27 L175.48 861.36 L178.24 862.45 L181 863.51 L183.76 864.57 L186.53 865.61 L189.3 866.64 L192.08 867.65 L194.87 868.66 L197.65 869.65 L200.44 870.63 L203.24 871.59 L206.04 872.55 L208.84 873.49 L211.65 874.43 L214.46 875.35 L217.27 876.25 L220.09 877.15 L222.91 878.04 L225.74 878.91 L228.57 879.78 L231.4 880.63 L234.24 881.47 L237.08 882.31 L239.92 883.13 L242.77 883.94 L245.62 884.74 L248.47 885.54 L251.33 886.32 L254.18 887.09 L257.05 887.86 L259.91 888.61 L262.78 889.35 L265.65 890.09 L268.52 890.82 L271.4 891.53 L274.28 892.24 L277.16 892.94 L280.04 893.64 L282.93 894.32 L285.81 895 L288.7 895.66 L291.6 896.32 L294.49 896.97 L297.39 897.62 L300.29 898.25 L303.19 898.88 L306.09 899.51 L309 900.12 L311.91 900.73 L314.81 901.33 L317.72 901.92 L320.64 902.51 L323.55 903.09 L326.46 903.67 L329.38 904.24 L332.3 904.8 L335.22 905.36 L338.14 905.91 L341.06 906.46 L343.98 907 L346.91 907.53 L349.83 908.06 L352.76 908.58 L355.69 909.1 L358.62 909.62 L361.55 910.13 L364.47 910.63 L367.41 911.13 L370.34 911.63 L373.27 912.12 L376.2 912.61 L379.13 913.09 L382.07 913.57 L385 914.05 L387.94 914.52 L390.87 914.99 L393.81 915.45 L396.75 915.91 L399.68 916.36 L402.62 916.81 L405.56 917.26 L408.5 917.7 L411.44 918.14 L414.38 918.58 L417.32 919.01 L420.26 919.43 L423.2 919.86 L426.15 920.28 L429.09 920.69 L432.03 921.11 L434.98 921.51 L437.92 921.92 L440.87 922.32 L443.81 922.72 L446.76 923.11 L449.71 923.5 L452.65 923.89 L455.6 924.28 L458.55 924.66 L461.49 925.03 L464.44 925.41 L467.39 925.78 L470.34 926.15 L473.29 926.51 L476.24 926.87 L479.19 927.23 L482.14 927.59 L485.09 927.94 L488.04 928.29 L491 928.64 L493.95 928.98 L496.9 929.32 L499.85 929.66 L502.8 929.99 L505.76 930.32 L508.71 930.65 L511.66 930.98 L514.62 931.3 L517.57 931.62 L520.53 931.94 L523.48 932.26 L526.43 932.57 L529.39 932.88 L532.34 933.19 L535.3 933.5 L538.25 933.8 L541.21 934.1 L544.17 934.4 L547.12 934.7 L550.08 934.99 L553.03 935.28 L555.99 935.57 L558.95 935.86 L561.9 936.15 L564.86 936.43 L567.81 936.71 L570.77 936.99 L573.73 937.27 L576.68 937.54 L579.64 937.81 L582.6 938.09 L585.55 938.36 L588.51 938.62 L591.47 938.89 L594.42 939.15 L597.38 939.42 L600.34 939.68 L603.29 939.94 L606.25 940.19 L609.2 940.45 L612.16 940.7 L615.12 940.96 L618.07 941.21 L621.03 941.46 L623.99 941.71 L626.94 941.95 L629.9 942.2 L632.85 942.44 L635.81 942.69 L638.76 942.93 L641.72 943.17 L644.67 943.41 L647.63 943.65 L650.58 943.89 L653.54 944.12 L656.49 944.36 L659.44 944.59 L662.4 944.83 L665.35 945.06 L668.3 945.29 L671.26 945.52 L674.21 945.75 L677.16 945.98 L680.2 945.8" fill="none" stroke="#0000ff" stroke-width="6.1" stroke-linejoin="miter" stroke-linecap="butt"/>
<path d="M106.3 811 V837.8 M98.1 811 H114.5 M98.1 837.8 H114.5" stroke="#0000ff" stroke-width="1.9" fill="none"/>
<circle cx="106.3" cy="824.2" r="7" fill="#0000ff"/>
<path d="M303.4 754.8 V910.8 M295.2 754.8 H311.6 M295.2 910.8 H311.6" stroke="#0000ff" stroke-width="1.9" fill="none"/>
<circle cx="303.4" cy="833.3" r="7" fill="#0000ff"/>
<path d="M502.3 970.2 V1007.6 M494.1 970.2 H510.5 M494.1 1007.6 H510.5" stroke="#0000ff" stroke-width="1.9" fill="none"/>
<circle cx="502.3" cy="988.7" r="7" fill="#0000ff"/>
<rect x="90.2" y="741" width="590" height="542.7" fill="none" stroke="#555" stroke-width="1.3"/>
<line x1="82.7" y1="827.83" x2="90.2" y2="827.83" stroke="#000" stroke-width="2"/>
<text x="77" y="837.03" text-anchor="end" style="font-family:'Liberation Sans',Arial,sans-serif;font-weight:bold;font-size:26px">10</text>
<line x1="82.7" y1="936.37" x2="90.2" y2="936.37" stroke="#000" stroke-width="2"/>
<text x="77" y="945.57" text-anchor="end" style="font-family:'Liberation Sans',Arial,sans-serif;font-weight:bold;font-size:26px">5</text>
<line x1="82.7" y1="1044.91" x2="90.2" y2="1044.91" stroke="#000" stroke-width="2"/>
<text x="77" y="1054.11" text-anchor="end" style="font-family:'Liberation Sans',Arial,sans-serif;font-weight:bold;font-size:26px">0</text>
<line x1="82.7" y1="1153.45" x2="90.2" y2="1153.45" stroke="#000" stroke-width="2"/>
<text x="77" y="1162.65" text-anchor="end" style="font-family:'Liberation Sans',Arial,sans-serif;font-weight:bold;font-size:26px">−5</text>
<line x1="82.7" y1="1261.99" x2="90.2" y2="1261.99" stroke="#000" stroke-width="2"/>
<text x="77" y="1271.19" text-anchor="end" style="font-family:'Liberation Sans',Arial,sans-serif;font-weight:bold;font-size:26px">−10</text>
<line x1="106" y1="1283.7" x2="106" y2="1291.7" stroke="#000" stroke-width="2"/>
<text x="106" y="1316.2" text-anchor="middle" style="font-family:'Liberation Sans',Arial,sans-serif;font-weight:bold;font-size:26px">0.00</text>
<line x1="201.65" y1="1283.7" x2="201.65" y2="1291.7" stroke="#000" stroke-width="2"/>
<text x="201.65" y="1316.2" text-anchor="middle" style="font-family:'Liberation Sans',Arial,sans-serif;font-weight:bold;font-size:26px">0.25</text>
<line x1="297.3" y1="1283.7" x2="297.3" y2="1291.7" stroke="#000" stroke-width="2"/>
<text x="297.3" y="1316.2" text-anchor="middle" style="font-family:'Liberation Sans',Arial,sans-serif;font-weight:bold;font-size:26px">0.50</text>
<line x1="392.95" y1="1283.7" x2="392.95" y2="1291.7" stroke="#000" stroke-width="2"/>
<text x="392.95" y="1316.2" text-anchor="middle" style="font-family:'Liberation Sans',Arial,sans-serif;font-weight:bold;font-size:26px">0.75</text>
<line x1="488.6" y1="1283.7" x2="488.6" y2="1291.7" stroke="#000" stroke-width="2"/>
<text x="488.6" y="1316.2" text-anchor="middle" style="font-family:'Liberation Sans',Arial,sans-serif;font-weight:bold;font-size:26px">1.00</text>
<line x1="584.25" y1="1283.7" x2="584.25" y2="1291.7" stroke="#000" stroke-width="2"/>
<text x="584.25" y="1316.2" text-anchor="middle" style="font-family:'Liberation Sans',Arial,sans-serif;font-weight:bold;font-size:26px">1.25</text>
<line x1="679.9" y1="1283.7" x2="679.9" y2="1291.7" stroke="#000" stroke-width="2"/>
<text x="679.9" y="1316.2" text-anchor="middle" style="font-family:'Liberation Sans',Arial,sans-serif;font-weight:bold;font-size:26px">1.50</text>
<text x="385.2" y="1348.7" text-anchor="middle" style="font-family:'Liberation Sans',Arial,sans-serif;font-weight:bold;font-size:29px">SRC inhibitor / Kd</text>
<text transform="translate(22.1 1016.1) rotate(-90)" text-anchor="middle" style="font-family:'Liberation Sans',Arial,sans-serif;font-weight:bold;font-size:29px">DPD</text>
</g>
<g>
<clipPath id="clip11"><rect x="798.3" y="741" width="588.8" height="542.7"/></clipPath>
<path clip-path="url(#clip11)" d="M812 828 L811.6 829.18 L811.85 830.2 L812.1 831.23 L812.36 832.26 L812.61 833.28 L812.86 834.31 L813.12 835.34 L813.37 836.36 L813.63 837.39 L813.88 838.42 L814.14 839.45 L814.4 840.48 L814.66 841.51 L814.91 842.54 L815.17 843.57 L815.43 844.61 L815.69 845.64 L815.96 846.67 L816.22 847.7 L816.48 848.74 L816.75 849.77 L817.01 850.8 L817.28 851.84 L817.54 852.87 L817.81 853.91 L818.08 854.94 L818.35 855.97 L818.62 857.01 L818.89 858.04 L819.16 859.08 L819.44 860.11 L819.71 861.15 L819.99 862.19 L820.27 863.22 L820.54 864.26 L820.82 865.29 L821.1 866.33 L821.39 867.36 L821.67 868.4 L821.95 869.43 L822.24 870.47 L822.53 871.5 L822.81 872.54 L823.1 873.57 L823.4 874.61 L823.69 875.64 L823.98 876.68 L824.28 877.71 L824.57 878.74 L824.87 879.78 L825.17 880.81 L825.47 881.84 L825.78 882.88 L826.08 883.91 L826.39 884.94 L826.69 885.97 L827 887 L827.31 888.03 L827.62 889.06 L827.94 890.09 L828.25 891.12 L828.57 892.15 L828.89 893.18 L829.21 894.21 L829.54 895.24 L829.86 896.26 L830.19 897.29 L830.52 898.31 L830.85 899.34 L831.18 900.36 L831.51 901.39 L831.85 902.41 L832.19 903.43 L832.53 904.45 L832.87 905.47 L833.21 906.49 L833.56 907.51 L833.91 908.53 L834.26 909.55 L834.61 910.57 L834.97 911.58 L835.32 912.6 L835.68 913.61 L836.04 914.62 L836.41 915.64 L836.77 916.65 L837.14 917.66 L837.51 918.67 L837.88 919.68 L838.26 920.68 L838.64 921.69 L839.02 922.69 L839.4 923.7 L839.78 924.7 L840.17 925.7 L840.56 926.7 L840.95 927.7 L841.35 928.7 L841.74 929.7 L842.14 930.7 L842.55 931.69 L842.95 932.68 L843.36 933.68 L843.77 934.67 L844.18 935.66 L844.6 936.65 L845.01 937.63 L845.44 938.62 L845.86 939.6 L846.29 940.58 L846.71 941.57 L847.15 942.55 L847.58 943.52 L848.02 944.5 L848.46 945.48 L848.9 946.45 L849.35 947.42 L849.8 948.39 L850.25 949.36 L850.71 950.33 L851.17 951.3 L851.63 952.26 L852.09 953.22 L852.56 954.18 L853.03 955.14 L853.51 956.1 L853.98 957.06 L854.46 958.01 L854.95 958.96 L855.43 959.91 L855.92 960.86 L856.42 961.81 L856.91 962.75 L857.41 963.7 L857.92 964.64 L858.42 965.58 L858.93 966.52 L859.45 967.45 L859.96 968.38 L860.48 969.32 L861.01 970.25 L861.53 971.17 L862.06 972.1 L862.6 973.02 L863.13 973.94 L863.68 974.86 L864.22 975.78 L864.77 976.69 L865.32 977.61 L865.88 978.52 L866.44 979.43 L867 980.33 L867.56 981.24 L868.14 982.14 L868.71 983.04 L869.29 983.93 L869.87 984.83 L870.45 985.72 L871.04 986.61 L871.64 987.5 L872.23 988.38 L872.84 989.27 L873.44 990.15 L874.05 991.03 L874.66 991.9 L875.28 992.77 L875.9 993.65 L876.52 994.51 L877.15 995.38 L877.79 996.24 L878.42 997.1 L879.07 997.96 L879.71 998.82 L880.36 999.67 L881.01 1000.52 L881.67 1001.37 L882.33 1002.21 L883 1003.05 L883.67 1003.89 L884.35 1004.73 L885.03 1005.56 L885.71 1006.39 L886.4 1007.22 L887.09 1008.04 L887.79 1008.87 L888.49 1009.69 L889.19 1010.5 L889.9 1011.32 L890.62 1012.13 L891.34 1012.94 L892.06 1013.74 L892.79 1014.54 L893.52 1015.34 L894.26 1016.14 L895 1016.93 L895.75 1017.72 L896.5 1018.51 L897.26 1019.29 L897.9 1020.1 L903.1 1112.8 L904.36 1115.17 L906.38 1116.83 L908.4 1118.48 L910.44 1120.1 L912.48 1121.71 L914.53 1123.3 L916.59 1124.87 L918.66 1126.42 L920.74 1127.95 L922.83 1129.47 L924.93 1130.96 L927.04 1132.44 L929.15 1133.91 L931.28 1135.35 L933.41 1136.78 L935.55 1138.19 L937.7 1139.58 L939.86 1140.96 L942.02 1142.32 L944.2 1143.66 L946.38 1144.99 L948.57 1146.3 L950.77 1147.6 L952.97 1148.88 L955.19 1150.14 L957.41 1151.39 L959.63 1152.62 L961.87 1153.84 L964.11 1155.04 L966.36 1156.23 L968.62 1157.4 L970.88 1158.56 L973.15 1159.71 L975.43 1160.84 L977.71 1161.95 L980 1163.05 L982.3 1164.14 L984.6 1165.21 L986.91 1166.27 L989.23 1167.32 L991.55 1168.35 L993.88 1169.37 L996.21 1170.38 L998.55 1171.37 L1000.9 1172.35 L1003.25 1173.32 L1005.6 1174.28 L1007.97 1175.22 L1010.33 1176.16 L1012.71 1177.08 L1015.08 1177.98 L1017.47 1178.88 L1019.85 1179.77 L1022.25 1180.64 L1024.64 1181.5 L1027.04 1182.35 L1029.45 1183.2 L1031.86 1184.03 L1034.28 1184.84 L1036.7 1185.65 L1039.12 1186.45 L1041.55 1187.24 L1043.98 1188.02 L1046.41 1188.79 L1048.85 1189.55 L1051.3 1190.3 L1053.74 1191.03 L1056.19 1191.77 L1058.65 1192.49 L1061.11 1193.2 L1063.57 1193.9 L1066.03 1194.6 L1068.5 1195.28 L1070.97 1195.96 L1073.44 1196.63 L1075.91 1197.29 L1078.39 1197.95 L1080.87 1198.59 L1083.35 1199.23 L1085.84 1199.86 L1088.33 1200.49 L1090.82 1201.1 L1093.31 1201.71 L1095.8 1202.32 L1098.3 1202.91 L1100.8 1203.5 L1103.29 1204.09 L1105.8 1204.66 L1108.3 1205.23 L1110.8 1205.8 L1113.31 1206.36 L1115.81 1206.91 L1118.32 1207.45 L1120.83 1208 L1123.35 1208.53 L1125.86 1209.06 L1128.37 1209.58 L1130.89 1210.1 L1133.4 1210.61 L1135.92 1211.12 L1138.44 1211.62 L1140.96 1212.12 L1143.48 1212.61 L1146.01 1213.1 L1148.53 1213.58 L1151.06 1214.05 L1153.58 1214.53 L1156.11 1214.99 L1158.64 1215.45 L1161.17 1215.91 L1163.7 1216.36 L1166.23 1216.81 L1168.76 1217.25 L1171.3 1217.69 L1173.83 1218.13 L1176.36 1218.56 L1178.9 1218.98 L1181.44 1219.41 L1183.97 1219.82 L1186.51 1220.24 L1189.05 1220.65 L1191.59 1221.05 L1194.13 1221.46 L1196.67 1221.85 L1199.21 1222.25 L1201.75 1222.64 L1204.29 1223.03 L1206.84 1223.41 L1209.38 1223.79 L1211.92 1224.17 L1214.46 1224.55 L1217.01 1224.92 L1219.55 1225.29 L1222.1 1225.65 L1224.64 1226.01 L1227.19 1226.37 L1229.73 1226.73 L1232.28 1227.08 L1234.82 1227.44 L1237.37 1227.78 L1239.92 1228.13 L1242.46 1228.47 L1245.01 1228.82 L1247.55 1229.16 L1250.1 1229.49 L1252.65 1229.83 L1255.19 1230.16 L1257.74 1230.49 L1260.28 1230.82 L1262.83 1231.15 L1265.38 1231.47 L1267.92 1231.8 L1270.47 1232.12 L1273.01 1232.44 L1275.55 1232.76 L1278.1 1233.07 L1280.64 1233.39 L1283.19 1233.7 L1285.73 1234.02 L1288.27 1234.33 L1290.81 1234.64 L1293.35 1234.95 L1295.9 1235.26 L1298.44 1235.57 L1300.98 1235.88 L1303.51 1236.18 L1306.05 1236.49 L1308.59 1236.79 L1311.13 1237.1 L1313.66 1237.4 L1316.2 1237.71 L1318.74 1238.01 L1321.27 1238.32 L1323.8 1238.62 L1326.34 1238.92 L1328.87 1239.23 L1331.4 1239.53 L1333.93 1239.83 L1336.46 1240.14 L1338.98 1240.44 L1341.51 1240.74 L1344.03 1241.05 L1346.56 1241.35 L1349.08 1241.66 L1351.6 1241.97 L1354.13 1242.27 L1356.64 1242.58 L1359.16 1242.89 L1361.68 1243.2 L1364.2 1243.51 L1366.71 1243.82 L1369.22 1244.13 L1371.74 1244.45 L1374.25 1244.76 L1376.75 1245.08 L1379.26 1245.4 L1381.77 1245.72 L1384.27 1246.04 L1387.1 1245.9" fill="none" stroke="#0000ff" stroke-width="6.1" stroke-linejoin="miter" stroke-linecap="butt"/>
<path d="M811.7 810.9 V837.6 M803.5 810.9 H819.9 M803.5 837.6 H819.9" stroke="#0000ff" stroke-width="1.9" fill="none"/>
<circle cx="811.7" cy="824.4" r="7" fill="#0000ff"/>
<path d="M1071.2 1186.5 V1195.1 M1063 1186.5 H1079.4 M1063 1195.1 H1079.4" stroke="#0000ff" stroke-width="1.9" fill="none"/>
<circle cx="1071.2" cy="1190.6" r="7" fill="#0000ff"/>
<path d="M1330.2 1224.3 V1236.3 M1322 1224.3 H1338.4 M1322 1236.3 H1338.4" stroke="#0000ff" stroke-width="1.9" fill="none"/>
<circle cx="1330.2" cy="1230.4" r="7" fill="#0000ff"/>
<rect x="798.3" y="741" width="588.8" height="542.7" fill="none" stroke="#555" stroke-width="1.3"/>
<line x1="790.8" y1="827.83" x2="798.3" y2="827.83" stroke="#000" stroke-width="2"/>
<text x="785.1" y="837.03" text-anchor="end" style="font-family:'Liberation Sans',Arial,sans-serif;font-weight:bold;font-size:26px">10</text>
<line x1="790.8" y1="936.37" x2="798.3" y2="936.37" stroke="#000" stroke-width="2"/>
<text x="785.1" y="945.57" text-anchor="end" style="font-family:'Liberation Sans',Arial,sans-serif;font-weight:bold;font-size:26px">5</text>
<line x1="790.8" y1="1044.91" x2="798.3" y2="1044.91" stroke="#000" stroke-width="2"/>
<text x="785.1" y="1054.11" text-anchor="end" style="font-family:'Liberation Sans',Arial,sans-serif;font-weight:bold;font-size:26px">0</text>
<line x1="790.8" y1="1153.45" x2="798.3" y2="1153.45" stroke="#000" stroke-width="2"/>
<text x="785.1" y="1162.65" text-anchor="end" style="font-family:'Liberation Sans',Arial,sans-serif;font-weight:bold;font-size:26px">−5</text>
<line x1="790.8" y1="1261.99" x2="798.3" y2="1261.99" stroke="#000" stroke-width="2"/>
<text x="785.1" y="1271.19" text-anchor="end" style="font-family:'Liberation Sans',Arial,sans-serif;font-weight:bold;font-size:26px">−10</text>
<line x1="812" y1="1283.7" x2="812" y2="1291.7" stroke="#000" stroke-width="2"/>
<text x="812" y="1316.2" text-anchor="middle" style="font-family:'Liberation Sans',Arial,sans-serif;font-weight:bold;font-size:26px">0.0</text>
<line x1="907.7" y1="1283.7" x2="907.7" y2="1291.7" stroke="#000" stroke-width="2"/>
<text x="907.7" y="1316.2" text-anchor="middle" style="font-family:'Liberation Sans',Arial,sans-serif;font-weight:bold;font-size:26px">0.5</text>
<line x1="1003.4" y1="1283.7" x2="1003.4" y2="1291.7" stroke="#000" stroke-width="2"/>
<text x="1003.4" y="1316.2" text-anchor="middle" style="font-family:'Liberation Sans',Arial,sans-serif;font-weight:bold;font-size:26px">1.0</text>
<line x1="1099.1" y1="1283.7" x2="1099.1" y2="1291.7" stroke="#000" stroke-width="2"/>
<text x="1099.1" y="1316.2" text-anchor="middle" style="font-family:'Liberation Sans',Arial,sans-serif;font-weight:bold;font-size:26px">1.5</text>
<line x1="1194.8" y1="1283.7" x2="1194.8" y2="1291.7" stroke="#000" stroke-width="2"/>
<text x="1194.8" y="1316.2" text-anchor="middle" style="font-family:'Liberation Sans',Arial,sans-serif;font-weight:bold;font-size:26px">2.0</text>
<line x1="1290.5" y1="1283.7" x2="1290.5" y2="1291.7" stroke="#000" stroke-width="2"/>
<text x="1290.5" y="1316.2" text-anchor="middle" style="font-family:'Liberation Sans',Arial,sans-serif;font-weight:bold;font-size:26px">2.5</text>
<line x1="1386.2" y1="1283.7" x2="1386.2" y2="1291.7" stroke="#000" stroke-width="2"/>
<text x="1386.2" y="1316.2" text-anchor="middle" style="font-family:'Liberation Sans',Arial,sans-serif;font-weight:bold;font-size:26px">3.0</text>
<text x="1092.7" y="1348.7" text-anchor="middle" style="font-family:'Liberation Sans',Arial,sans-serif;font-weight:bold;font-size:29px">mTOR inhibitor / Kd</text>
<text transform="translate(730.2 1016.1) rotate(-90)" text-anchor="middle" style="font-family:'Liberation Sans',Arial,sans-serif;font-weight:bold;font-size:29px">DPD</text>
</g>
<g>
<clipPath id="clip12"><rect x="1504.2" y="741" width="590.1" height="542.7"/></clipPath>
<path clip-path="url(#clip12)" d="M1522 828 L1522.29 829.42 L1523.04 831.57 L1523.81 833.69 L1524.6 835.81 L1525.41 837.91 L1526.23 839.99 L1527.08 842.05 L1527.94 844.1 L1528.82 846.14 L1529.72 848.16 L1530.64 850.16 L1531.57 852.15 L1532.52 854.13 L1533.49 856.09 L1534.48 858.03 L1535.48 859.96 L1536.51 861.87 L1537.54 863.77 L1538.6 865.65 L1539.67 867.52 L1540.76 869.37 L1541.86 871.21 L1542.98 873.04 L1544.12 874.85 L1545.27 876.64 L1546.44 878.42 L1547.63 880.19 L1548.83 881.94 L1550.04 883.67 L1551.27 885.4 L1552.52 887.1 L1553.78 888.8 L1555.05 890.48 L1556.34 892.14 L1557.64 893.79 L1558.96 895.43 L1560.3 897.05 L1561.64 898.66 L1563 900.26 L1564.38 901.84 L1565.77 903.41 L1567.17 904.96 L1568.58 906.5 L1570.01 908.03 L1571.45 909.54 L1572.91 911.04 L1574.38 912.53 L1575.86 914 L1577.35 915.46 L1578.85 916.91 L1580.37 918.34 L1581.9 919.76 L1583.44 921.17 L1585 922.56 L1586.56 923.95 L1588.14 925.31 L1589.73 926.67 L1591.33 928.01 L1592.94 929.34 L1594.56 930.66 L1596.19 931.96 L1597.83 933.25 L1599.49 934.53 L1601.15 935.8 L1602.83 937.05 L1604.51 938.29 L1606.21 939.52 L1607.91 940.74 L1609.63 941.94 L1611.35 943.14 L1613.08 944.32 L1614.83 945.48 L1616.58 946.64 L1618.34 947.78 L1620.11 948.92 L1621.89 950.04 L1623.68 951.15 L1625.47 952.24 L1627.28 953.33 L1629.09 954.4 L1630.91 955.46 L1632.74 956.51 L1634.58 957.55 L1636.42 958.58 L1638.27 959.6 L1640.13 960.6 L1642 961.59 L1643.87 962.58 L1645.75 963.55 L1647.64 964.51 L1649.53 965.46 L1651.43 966.39 L1653.34 967.32 L1655.25 968.24 L1657.17 969.14 L1659.09 970.04 L1661.03 970.92 L1662.96 971.79 L1664.9 972.66 L1666.85 973.51 L1668.8 974.35 L1670.76 975.18 L1672.72 976 L1674.69 976.81 L1676.67 977.61 L1678.64 978.4 L1680.62 979.18 L1682.61 979.95 L1684.6 980.71 L1686.6 981.46 L1688.6 982.2 L1690.6 982.93 L1692.61 983.66 L1694.62 984.37 L1696.64 985.07 L1698.66 985.77 L1700.68 986.46 L1702.71 987.13 L1704.74 987.8 L1706.77 988.46 L1708.81 989.11 L1710.85 989.76 L1712.89 990.39 L1714.94 991.02 L1716.99 991.64 L1719.04 992.25 L1721.1 992.85 L1723.15 993.44 L1725.22 994.03 L1727.28 994.61 L1729.34 995.18 L1731.41 995.75 L1733.48 996.31 L1735.56 996.86 L1737.63 997.4 L1739.71 997.94 L1741.79 998.47 L1743.87 998.99 L1745.95 999.51 L1748.03 1000.02 L1750.12 1000.52 L1752.2 1001.02 L1754.29 1001.51 L1756.38 1001.99 L1758.47 1002.47 L1760.56 1002.95 L1762.65 1003.41 L1764.75 1003.87 L1766.84 1004.33 L1768.94 1004.78 L1771.03 1005.23 L1773.13 1005.67 L1775.22 1006.1 L1777.32 1006.53 L1779.42 1006.96 L1781.51 1007.38 L1783.61 1007.79 L1785.71 1008.2 L1787.8 1008.61 L1789.9 1009.01 L1792 1009.41 L1794.09 1009.8 L1796.19 1010.19 L1798.28 1010.58 L1800.38 1010.96 L1802.47 1011.34 L1804.56 1011.71 L1806.65 1012.08 L1808.75 1012.45 L1810.83 1012.81 L1812.92 1013.18 L1815.01 1013.53 L1817.09 1013.89 L1819.18 1014.24 L1821.26 1014.59 L1823.34 1014.93 L1825.42 1015.28 L1827.5 1015.62 L1829.57 1015.96 L1831.65 1016.29 L1833.72 1016.63 L1835.79 1016.96 L1837.85 1017.29 L1839.92 1017.62 L1841.98 1017.94 L1844.04 1018.27 L1846.09 1018.59 L1848.15 1018.91 L1850.2 1019.23 L1852.24 1019.55 L1854.29 1019.87 L1856.33 1020.19 L1858.37 1020.5 L1860.4 1020.82 L1862.43 1021.13 L1864.46 1021.45 L1866.48 1021.76 L1868.51 1022.07 L1871 1022.8 L1873.4 1110 L1874.52 1110.07 L1875.62 1110.24 L1876.73 1110.41 L1877.84 1110.57 L1878.94 1110.74 L1880.05 1110.91 L1881.16 1111.07 L1882.26 1111.24 L1883.37 1111.4 L1884.48 1111.57 L1885.58 1111.73 L1886.69 1111.9 L1887.8 1112.06 L1888.9 1112.23 L1890.01 1112.39 L1891.12 1112.55 L1892.22 1112.72 L1893.33 1112.88 L1894.44 1113.04 L1895.54 1113.2 L1896.65 1113.36 L1897.76 1113.53 L1898.87 1113.69 L1899.97 1113.85 L1901.08 1114.01 L1902.19 1114.17 L1903.29 1114.33 L1904.4 1114.49 L1905.51 1114.65 L1906.62 1114.8 L1907.72 1114.96 L1908.83 1115.12 L1909.94 1115.28 L1911.05 1115.44 L1912.15 1115.59 L1913.26 1115.75 L1914.37 1115.91 L1915.48 1116.06 L1916.58 1116.22 L1917.69 1116.37 L1918.8 1116.53 L1919.91 1116.68 L1921.02 1116.84 L1922.12 1116.99 L1923.23 1117.15 L1924.34 1117.3 L1925.45 1117.45 L1926.56 1117.61 L1927.66 1117.76 L1928.77 1117.91 L1929.88 1118.06 L1930.99 1118.21 L1932.1 1118.37 L1933.21 1118.52 L1934.31 1118.67 L1935.42 1118.82 L1936.53 1118.97 L1937.64 1119.12 L1938.75 1119.27 L1939.86 1119.42 L1940.96 1119.56 L1942.07 1119.71 L1943.18 1119.86 L1944.29 1120.01 L1945.4 1120.16 L1946.51 1120.3 L1947.62 1120.45 L1948.73 1120.6 L1949.84 1120.74 L1950.94 1120.89 L1952.05 1121.04 L1953.16 1121.18 L1954.27 1121.33 L1955.38 1121.47 L1956.49 1121.62 L1957.6 1121.76 L1958.71 1121.9 L1959.82 1122.05 L1960.93 1122.19 L1962.04 1122.33 L1963.15 1122.48 L1964.25 1122.62 L1965.36 1122.76 L1966.47 1122.9 L1967.58 1123.04 L1968.69 1123.18 L1969.8 1123.33 L1970.91 1123.47 L1972.02 1123.61 L1973.13 1123.75 L1974.24 1123.89 L1975.35 1124.02 L1976.46 1124.16 L1977.57 1124.3 L1978.68 1124.44 L1979.79 1124.58 L1980.9 1124.72 L1982.01 1124.85 L1983.12 1124.99 L1984.23 1125.13 L1985.34 1125.26 L1986.45 1125.4 L1987.56 1125.54 L1988.67 1125.67 L1989.78 1125.81 L1990.89 1125.94 L1992 1126.08 L1993.11 1126.21 L1994.22 1126.35 L1995.33 1126.48 L1996.44 1126.61 L1997.55 1126.75 L1998.66 1126.88 L1999.78 1127.01 L2000.89 1127.15 L2002 1127.28 L2003.11 1127.41 L2004.22 1127.54 L2005.33 1127.67 L2006.44 1127.8 L2007.55 1127.93 L2008.66 1128.06 L2009.77 1128.19 L2010.88 1128.32 L2011.99 1128.45 L2013.11 1128.58 L2014.22 1128.71 L2015.33 1128.84 L2016.44 1128.97 L2017.55 1129.1 L2018.66 1129.22 L2019.77 1129.35 L2020.88 1129.48 L2022 1129.6 L2023.11 1129.73 L2024.22 1129.86 L2025.33 1129.98 L2026.44 1130.11 L2027.55 1130.23 L2028.66 1130.36 L2029.78 1130.48 L2030.89 1130.61 L2032 1130.73 L2033.11 1130.86 L2034.22 1130.98 L2035.33 1131.1 L2036.45 1131.23 L2037.56 1131.35 L2038.67 1131.47 L2039.78 1131.59 L2040.89 1131.72 L2042.01 1131.84 L2043.12 1131.96 L2044.23 1132.08 L2045.34 1132.2 L2046.45 1132.32 L2047.57 1132.44 L2048.68 1132.56 L2049.79 1132.68 L2050.9 1132.8 L2052.02 1132.92 L2053.13 1133.04 L2054.24 1133.16 L2055.35 1133.27 L2056.46 1133.39 L2057.58 1133.51 L2058.69 1133.63 L2059.8 1133.74 L2060.91 1133.86 L2062.03 1133.98 L2063.14 1134.09 L2064.25 1134.21 L2065.37 1134.33 L2066.48 1134.44 L2067.59 1134.56 L2068.7 1134.67 L2069.82 1134.79 L2070.93 1134.9 L2072.04 1135.01 L2073.16 1135.13 L2074.27 1135.24 L2075.38 1135.35 L2076.49 1135.47 L2077.61 1135.58 L2078.72 1135.69 L2079.83 1135.8 L2080.95 1135.92 L2082.06 1136.03 L2083.17 1136.14 L2084.29 1136.25 L2085.4 1136.36 L2086.51 1136.47 L2087.63 1136.58 L2088.74 1136.69 L2089.85 1136.8 L2090.97 1136.91 L2092.08 1137.02 L2093.19 1137.13 L2094.3 1137.3" fill="none" stroke="#0000ff" stroke-width="6.1" stroke-linejoin="miter" stroke-linecap="butt"/>
<circle cx="1521.7" cy="823.8" r="7" fill="#0000ff"/>
<circle cx="1777" cy="965.3" r="7" fill="#0000ff"/>
<circle cx="2033.4" cy="1178.3" r="7" fill="#0000ff"/>
<rect x="1504.2" y="741" width="590.1" height="542.7" fill="none" stroke="#555" stroke-width="1.3"/>
<line x1="1496.7" y1="827.83" x2="1504.2" y2="827.83" stroke="#000" stroke-width="2"/>
<text x="1491" y="837.03" text-anchor="end" style="font-family:'Liberation Sans',Arial,sans-serif;font-weight:bold;font-size:26px">10</text>
<line x1="1496.7" y1="936.37" x2="1504.2" y2="936.37" stroke="#000" stroke-width="2"/>
<text x="1491" y="945.57" text-anchor="end" style="font-family:'Liberation Sans',Arial,sans-serif;font-weight:bold;font-size:26px">5</text>
<line x1="1496.7" y1="1044.91" x2="1504.2" y2="1044.91" stroke="#000" stroke-width="2"/>
<text x="1491" y="1054.11" text-anchor="end" style="font-family:'Liberation Sans',Arial,sans-serif;font-weight:bold;font-size:26px">0</text>
<line x1="1496.7" y1="1153.45" x2="1504.2" y2="1153.45" stroke="#000" stroke-width="2"/>
<text x="1491" y="1162.65" text-anchor="end" style="font-family:'Liberation Sans',Arial,sans-serif;font-weight:bold;font-size:26px">−5</text>
<line x1="1496.7" y1="1261.99" x2="1504.2" y2="1261.99" stroke="#000" stroke-width="2"/>
<text x="1491" y="1271.19" text-anchor="end" style="font-family:'Liberation Sans',Arial,sans-serif;font-weight:bold;font-size:26px">−10</text>
<line x1="1522" y1="1283.7" x2="1522" y2="1291.7" stroke="#000" stroke-width="2"/>
<text x="1522" y="1316.2" text-anchor="middle" style="font-family:'Liberation Sans',Arial,sans-serif;font-weight:bold;font-size:26px">0</text>
<line x1="1685.14" y1="1283.7" x2="1685.14" y2="1291.7" stroke="#000" stroke-width="2"/>
<text x="1685.14" y="1316.2" text-anchor="middle" style="font-family:'Liberation Sans',Arial,sans-serif;font-weight:bold;font-size:26px">2</text>
<line x1="1848.28" y1="1283.7" x2="1848.28" y2="1291.7" stroke="#000" stroke-width="2"/>
<text x="1848.28" y="1316.2" text-anchor="middle" style="font-family:'Liberation Sans',Arial,sans-serif;font-weight:bold;font-size:26px">4</text>
<line x1="2011.42" y1="1283.7" x2="2011.42" y2="1291.7" stroke="#000" stroke-width="2"/>
<text x="2011.42" y="1316.2" text-anchor="middle" style="font-family:'Liberation Sans',Arial,sans-serif;font-weight:bold;font-size:26px">6</text>
<text x="1799.25" y="1348.7" text-anchor="middle" style="font-family:'Liberation Sans',Arial,sans-serif;font-weight:bold;font-size:29px">CDK inhibitor / Kd</text>
<text transform="translate(1436.1 1016.1) rotate(-90)" text-anchor="middle" style="font-family:'Liberation Sans',Arial,sans-serif;font-weight:bold;font-size:29px">DPD</text>
</g>
<text x="27.3" y="43.9" style="font-family:'Liberation Sans',Arial,sans-serif;font-weight:bold;font-size:58px">A</text>
<text x="26.5" y="1576" style="font-family:'Liberation Sans',Arial,sans-serif;font-weight:bold;font-size:58px">B</text>
<g>
<clipPath id="clipB"><rect x="163.3" y="1579.3" width="770.2" height="849.1"/></clipPath>
<g clip-path="url(#clipB)">
<rect x="163.3" y="1579.3" width="770.2" height="849.1" fill="#0018ff"/>
<path d="M232.9 1579.3 L233.1 1582.15 L233.41 1584.86 L233.71 1587.56 L234.01 1590.27 L234.32 1592.98 L234.63 1595.69 L234.94 1598.4 L235.26 1601.11 L235.57 1603.82 L235.89 1606.54 L236.21 1609.25 L236.54 1611.96 L236.86 1614.68 L237.19 1617.39 L237.52 1620.11 L237.86 1622.83 L238.2 1625.54 L238.54 1628.26 L238.88 1630.98 L239.23 1633.7 L239.58 1636.42 L239.94 1639.13 L240.29 1641.85 L240.65 1644.57 L241.02 1647.29 L241.39 1650.01 L241.76 1652.73 L242.13 1655.45 L242.51 1658.17 L242.9 1660.89 L243.28 1663.61 L243.67 1666.33 L244.07 1669.04 L244.47 1671.76 L244.87 1674.48 L245.28 1677.2 L245.69 1679.92 L246.11 1682.63 L246.53 1685.35 L246.96 1688.07 L247.39 1690.78 L247.82 1693.5 L248.27 1696.21 L248.71 1698.93 L249.16 1701.64 L249.62 1704.35 L250.08 1707.06 L250.54 1709.77 L251.01 1712.49 L251.49 1715.19 L251.97 1717.9 L252.46 1720.61 L252.95 1723.32 L253.45 1726.02 L253.95 1728.73 L254.46 1731.43 L254.98 1734.13 L255.5 1736.83 L256.03 1739.53 L256.56 1742.23 L257.1 1744.93 L257.65 1747.62 L258.2 1750.32 L258.76 1753.01 L259.32 1755.7 L259.9 1758.39 L260.47 1761.08 L261.06 1763.77 L261.65 1766.45 L262.25 1769.14 L262.85 1771.82 L263.46 1774.5 L264.08 1777.18 L264.71 1779.85 L265.34 1782.53 L265.98 1785.2 L266.63 1787.87 L267.29 1790.54 L267.95 1793.21 L268.62 1795.87 L269.3 1798.53 L269.98 1801.19 L270.67 1803.85 L271.37 1806.51 L272.08 1809.16 L272.8 1811.81 L273.52 1814.46 L274.26 1817.11 L275 1819.75 L275.75 1822.39 L276.5 1825.03 L277.27 1827.67 L278.04 1830.3 L278.82 1832.93 L279.61 1835.56 L280.41 1838.19 L281.22 1840.81 L282.04 1843.43 L282.87 1846.05 L283.7 1848.66 L284.54 1851.27 L285.4 1853.88 L286.26 1856.49 L287.13 1859.09 L288.01 1861.69 L288.9 1864.28 L289.8 1866.88 L290.71 1869.47 L291.63 1872.05 L292.56 1874.64 L293.49 1877.22 L294.44 1879.79 L295.4 1882.37 L296.37 1884.94 L297.34 1887.5 L298.33 1890.07 L299.33 1892.63 L300.34 1895.18 L301.36 1897.73 L302.38 1900.28 L303.42 1902.83 L304.47 1905.37 L305.53 1907.9 L306.6 1910.44 L307.69 1912.97 L308.78 1915.49 L309.88 1918.01 L311 1920.53 L312.12 1923.04 L313.26 1925.55 L314.4 1928.06 L315.56 1930.55 L316.73 1933.05 L317.91 1935.54 L319.1 1938.02 L320.31 1940.5 L321.52 1942.97 L322.75 1945.44 L323.99 1947.9 L325.24 1950.35 L326.5 1952.8 L327.77 1955.25 L329.06 1957.68 L330.35 1960.11 L331.66 1962.53 L332.98 1964.95 L334.32 1967.36 L335.66 1969.76 L337.02 1972.15 L338.39 1974.54 L339.77 1976.91 L341.16 1979.28 L342.57 1981.65 L343.99 1984 L345.42 1986.35 L346.86 1988.68 L348.32 1991.01 L349.78 1993.33 L351.27 1995.64 L352.76 1997.94 L354.27 2000.23 L355.79 2002.51 L357.32 2004.79 L358.86 2007.05 L360.42 2009.3 L361.99 2011.54 L363.58 2013.77 L365.18 2016 L366.79 2018.21 L368.41 2020.41 L370.05 2022.6 L371.7 2024.77 L373.37 2026.94 L375.05 2029.1 L376.74 2031.24 L378.45 2033.37 L380.16 2035.49 L381.9 2037.6 L383.65 2039.7 L385.41 2041.78 L387.18 2043.85 L388.97 2045.91 L390.77 2047.96 L392.59 2049.99 L394.42 2052.01 L396.27 2054.01 L398.13 2056.01 L400 2057.99 L401.89 2059.95 L403.8 2061.9 L405.71 2063.84 L407.65 2065.76 L409.59 2067.67 L411.56 2069.57 L413.53 2071.44 L415.52 2073.31 L417.53 2075.16 L419.55 2076.99 L421.58 2078.81 L423.63 2080.62 L425.69 2082.41 L427.77 2084.19 L429.85 2085.96 L431.95 2087.71 L434.06 2089.44 L436.19 2091.17 L438.32 2092.88 L440.47 2094.57 L442.63 2096.25 L444.8 2097.92 L446.98 2099.58 L449.17 2101.22 L451.37 2102.86 L453.58 2104.47 L455.8 2106.08 L458.03 2107.67 L460.27 2109.25 L462.52 2110.82 L464.78 2112.38 L467.04 2113.92 L469.32 2115.46 L471.6 2116.98 L473.9 2118.48 L476.2 2119.98 L478.51 2121.47 L480.83 2122.94 L483.15 2124.4 L485.49 2125.85 L487.83 2127.29 L490.18 2128.71 L492.54 2130.13 L494.9 2131.53 L497.27 2132.93 L499.65 2134.31 L502.04 2135.68 L504.44 2137.04 L506.84 2138.39 L509.25 2139.72 L511.66 2141.05 L514.08 2142.37 L516.51 2143.67 L518.94 2144.97 L521.38 2146.25 L523.83 2147.53 L526.28 2148.79 L528.74 2150.05 L531.21 2151.29 L533.68 2152.52 L536.15 2153.75 L538.63 2154.96 L541.12 2156.16 L543.61 2157.36 L546.11 2158.54 L548.61 2159.72 L551.11 2160.88 L553.62 2162.04 L556.14 2163.18 L558.66 2164.32 L561.18 2165.45 L563.71 2166.56 L566.24 2167.67 L568.78 2168.77 L571.32 2169.86 L573.86 2170.94 L576.41 2172.02 L578.96 2173.08 L581.51 2174.14 L584.07 2175.18 L586.63 2176.22 L589.2 2177.25 L591.76 2178.27 L594.33 2179.28 L596.9 2180.29 L599.48 2181.29 L602.05 2182.27 L604.63 2183.25 L607.21 2184.23 L609.79 2185.19 L612.38 2186.15 L614.97 2187.09 L617.55 2188.04 L620.14 2188.97 L622.74 2189.89 L625.33 2190.81 L627.93 2191.72 L630.52 2192.63 L633.12 2193.52 L635.72 2194.41 L638.32 2195.29 L640.93 2196.16 L643.53 2197.03 L646.14 2197.88 L648.75 2198.73 L651.36 2199.58 L653.98 2200.41 L656.59 2201.24 L659.21 2202.06 L661.82 2202.88 L664.44 2203.69 L667.06 2204.49 L669.69 2205.28 L672.31 2206.07 L674.94 2206.84 L677.57 2207.62 L680.19 2208.38 L682.83 2209.14 L685.46 2209.89 L688.09 2210.64 L690.73 2211.37 L693.37 2212.11 L696 2212.83 L698.65 2213.55 L701.29 2214.26 L703.93 2214.96 L706.58 2215.66 L709.22 2216.35 L711.87 2217.04 L714.52 2217.72 L717.17 2218.39 L719.83 2219.05 L722.48 2219.71 L725.14 2220.36 L727.79 2221.01 L730.45 2221.65 L733.11 2222.29 L735.77 2222.91 L738.44 2223.53 L741.1 2224.15 L743.77 2224.76 L746.44 2225.36 L749.11 2225.96 L751.78 2226.55 L754.45 2227.14 L757.12 2227.72 L759.8 2228.29 L762.47 2228.86 L765.15 2229.42 L767.83 2229.97 L770.51 2230.52 L773.19 2231.07 L775.88 2231.61 L778.56 2232.14 L781.25 2232.67 L783.94 2233.19 L786.62 2233.71 L789.31 2234.22 L792.01 2234.72 L794.7 2235.22 L797.39 2235.72 L800.09 2236.21 L802.79 2236.69 L805.48 2237.17 L808.18 2237.64 L810.88 2238.11 L813.59 2238.57 L816.29 2239.03 L818.99 2239.48 L821.7 2239.93 L824.41 2240.37 L827.11 2240.81 L829.82 2241.24 L832.53 2241.67 L835.25 2242.09 L837.96 2242.51 L840.67 2242.92 L843.39 2243.33 L846.11 2243.73 L848.82 2244.13 L851.54 2244.52 L854.26 2244.91 L856.99 2245.29 L859.71 2245.67 L862.43 2246.05 L865.16 2246.42 L867.88 2246.78 L870.61 2247.14 L873.34 2247.5 L876.07 2247.85 L878.8 2248.2 L881.53 2248.54 L884.26 2248.88 L887 2249.22 L889.73 2249.55 L892.47 2249.87 L895.21 2250.19 L897.94 2250.51 L900.68 2250.83 L903.42 2251.14 L906.17 2251.44 L908.91 2251.74 L911.65 2252.04 L914.4 2252.33 L917.14 2252.62 L919.89 2252.91 L922.64 2253.19 L925.38 2253.47 L928.13 2253.74 L930.88 2254.02 L933.5 2254.4 L935.5 2254.4 L935.5 2430.4 L161.3 2430.4 L161.3 1577.3 L232.9 1577.3 Z" fill="#0080ff"/>
<path d="M163.3 1904 L163.22 1906.82 L163.57 1909.46 L163.91 1912.09 L164.25 1914.72 L164.59 1917.36 L164.93 1919.99 L165.27 1922.63 L165.61 1925.27 L165.95 1927.9 L166.29 1930.54 L166.63 1933.18 L166.97 1935.81 L167.31 1938.45 L167.65 1941.09 L167.99 1943.73 L168.33 1946.37 L168.67 1949.01 L169.02 1951.65 L169.36 1954.29 L169.71 1956.93 L170.05 1959.57 L170.4 1962.21 L170.75 1964.85 L171.1 1967.49 L171.45 1970.13 L171.8 1972.77 L172.16 1975.42 L172.52 1978.06 L172.88 1980.7 L173.24 1983.34 L173.61 1985.98 L173.97 1988.63 L174.34 1991.27 L174.72 1993.91 L175.09 1996.55 L175.47 1999.19 L175.85 2001.84 L176.24 2004.48 L176.63 2007.12 L177.02 2009.76 L177.41 2012.4 L177.81 2015.04 L178.22 2017.69 L178.62 2020.33 L179.03 2022.97 L179.45 2025.61 L179.87 2028.25 L180.29 2030.89 L180.72 2033.53 L181.16 2036.17 L181.6 2038.81 L182.04 2041.45 L182.49 2044.09 L182.94 2046.73 L183.4 2049.37 L183.87 2052 L184.34 2054.64 L184.81 2057.28 L185.29 2059.92 L185.78 2062.55 L186.27 2065.19 L186.77 2067.82 L187.28 2070.46 L187.79 2073.09 L188.31 2075.73 L188.84 2078.36 L189.37 2080.99 L189.91 2083.62 L190.45 2086.26 L191.01 2088.89 L191.57 2091.52 L192.14 2094.14 L192.72 2096.77 L193.31 2099.39 L193.91 2102.02 L194.51 2104.63 L195.13 2107.25 L195.76 2109.86 L196.4 2112.48 L197.06 2115.08 L197.72 2117.69 L198.4 2120.28 L199.09 2122.88 L199.79 2125.47 L200.51 2128.06 L201.24 2130.64 L201.99 2133.21 L202.75 2135.78 L203.53 2138.35 L204.32 2140.91 L205.13 2143.46 L205.96 2146.01 L206.8 2148.55 L207.66 2151.08 L208.54 2153.6 L209.44 2156.12 L210.36 2158.63 L211.29 2161.14 L212.25 2163.63 L213.22 2166.12 L214.22 2168.59 L215.23 2171.06 L216.27 2173.52 L217.33 2175.97 L218.4 2178.41 L219.5 2180.84 L220.62 2183.25 L221.76 2185.66 L222.92 2188.06 L224.1 2190.44 L225.31 2192.81 L226.53 2195.17 L227.78 2197.52 L229.05 2199.85 L230.34 2202.17 L231.66 2204.47 L233 2206.77 L234.36 2209.05 L235.74 2211.31 L237.15 2213.56 L238.58 2215.79 L240.04 2218.01 L241.51 2220.21 L243.02 2222.4 L244.54 2224.57 L246.09 2226.72 L247.67 2228.85 L249.27 2230.97 L250.89 2233.07 L252.54 2235.15 L254.22 2237.21 L255.92 2239.26 L257.64 2241.28 L259.39 2243.29 L261.17 2245.28 L262.97 2247.25 L264.79 2249.19 L266.64 2251.12 L268.5 2253.03 L270.39 2254.93 L272.3 2256.8 L274.24 2258.65 L276.19 2260.49 L278.16 2262.3 L280.15 2264.1 L282.16 2265.87 L284.19 2267.63 L286.23 2269.37 L288.3 2271.09 L290.37 2272.79 L292.47 2274.47 L294.58 2276.14 L296.7 2277.78 L298.84 2279.4 L301 2281.01 L303.16 2282.6 L305.34 2284.16 L307.54 2285.71 L309.74 2287.24 L311.95 2288.75 L314.18 2290.25 L316.41 2291.72 L318.66 2293.17 L320.91 2294.61 L323.17 2296.02 L325.45 2297.42 L327.72 2298.8 L330.01 2300.16 L332.31 2301.5 L334.61 2302.83 L336.93 2304.13 L339.25 2305.42 L341.58 2306.69 L343.91 2307.95 L346.26 2309.18 L348.61 2310.4 L350.97 2311.61 L353.33 2312.79 L355.71 2313.96 L358.09 2315.11 L360.48 2316.25 L362.88 2317.37 L365.28 2318.48 L367.69 2319.56 L370.11 2320.64 L372.53 2321.7 L374.96 2322.74 L377.4 2323.77 L379.84 2324.78 L382.29 2325.78 L384.75 2326.76 L387.21 2327.73 L389.68 2328.68 L392.15 2329.62 L394.64 2330.55 L397.12 2331.46 L399.61 2332.36 L402.11 2333.25 L404.62 2334.12 L407.13 2334.98 L409.64 2335.82 L412.16 2336.66 L414.68 2337.48 L417.21 2338.29 L419.75 2339.08 L422.29 2339.87 L424.84 2340.64 L427.39 2341.4 L429.94 2342.15 L432.5 2342.89 L435.06 2343.61 L437.63 2344.33 L440.2 2345.03 L442.78 2345.72 L445.36 2346.4 L447.94 2347.08 L450.53 2347.74 L453.13 2348.39 L455.72 2349.03 L458.32 2349.66 L460.93 2350.28 L463.53 2350.9 L466.14 2351.5 L468.76 2352.09 L471.37 2352.68 L473.99 2353.25 L476.62 2353.82 L479.24 2354.38 L481.87 2354.93 L484.5 2355.47 L487.14 2356.01 L489.78 2356.53 L492.42 2357.05 L495.06 2357.56 L497.7 2358.07 L500.35 2358.56 L503 2359.05 L505.65 2359.54 L508.3 2360.01 L510.95 2360.48 L513.61 2360.94 L516.27 2361.4 L518.93 2361.85 L521.59 2362.3 L524.25 2362.74 L526.91 2363.17 L529.58 2363.6 L532.25 2364.02 L534.91 2364.44 L537.58 2364.85 L540.25 2365.26 L542.92 2365.67 L545.59 2366.07 L548.26 2366.46 L550.93 2366.85 L553.6 2367.24 L556.28 2367.62 L558.95 2368 L561.62 2368.38 L564.29 2368.75 L566.97 2369.12 L569.64 2369.49 L572.31 2369.85 L574.98 2370.22 L577.65 2370.58 L580.32 2370.93 L582.99 2371.29 L585.66 2371.64 L588.33 2371.99 L591 2372.34 L593.67 2372.69 L596.33 2373.04 L599 2373.38 L601.66 2373.73 L604.32 2374.07 L606.98 2374.42 L609.64 2374.76 L612.3 2375.1 L614.96 2375.44 L617.62 2375.78 L620.27 2376.12 L622.92 2376.46 L625.58 2376.79 L628.23 2377.13 L630.88 2377.46 L633.53 2377.8 L636.18 2378.13 L638.83 2378.46 L641.47 2378.79 L644.12 2379.12 L646.77 2379.45 L649.41 2379.77 L652.06 2380.1 L654.7 2380.42 L657.34 2380.75 L659.98 2381.07 L662.62 2381.39 L665.27 2381.71 L667.91 2382.02 L670.55 2382.34 L673.18 2382.66 L675.82 2382.97 L678.46 2383.28 L681.1 2383.59 L683.74 2383.9 L686.37 2384.21 L689.01 2384.51 L691.64 2384.82 L694.28 2385.12 L696.92 2385.42 L699.55 2385.72 L702.19 2386.02 L704.82 2386.32 L707.46 2386.61 L710.09 2386.91 L712.72 2387.2 L715.36 2387.49 L717.99 2387.78 L720.63 2388.06 L723.26 2388.35 L725.9 2388.63 L728.53 2388.91 L731.16 2389.19 L733.8 2389.47 L736.43 2389.74 L739.07 2390.02 L741.7 2390.29 L744.34 2390.56 L746.98 2390.83 L749.61 2391.09 L752.25 2391.36 L754.88 2391.62 L757.52 2391.88 L760.16 2392.14 L762.8 2392.39 L765.43 2392.65 L768.07 2392.9 L770.71 2393.15 L773.35 2393.39 L775.99 2393.64 L778.63 2393.88 L781.27 2394.12 L783.92 2394.36 L786.56 2394.6 L789.2 2394.83 L791.85 2395.06 L794.49 2395.29 L797.14 2395.52 L799.79 2395.75 L802.43 2395.97 L805.08 2396.19 L807.73 2396.41 L810.38 2396.62 L813.03 2396.83 L815.69 2397.04 L818.34 2397.25 L820.99 2397.46 L823.65 2397.66 L826.31 2397.86 L828.97 2398.06 L831.62 2398.25 L834.28 2398.45 L836.95 2398.64 L839.61 2398.82 L842.27 2399.01 L844.94 2399.19 L847.61 2399.37 L850.27 2399.55 L852.94 2399.72 L855.61 2399.89 L858.29 2400.06 L860.96 2400.23 L863.64 2400.39 L866.31 2400.55 L868.99 2400.71 L871.67 2400.86 L874.35 2401.01 L877.04 2401.16 L879.72 2401.31 L882.41 2401.45 L885.1 2401.59 L887.79 2401.72 L890.48 2401.86 L893.17 2401.99 L895.87 2402.12 L898.57 2402.24 L901.27 2402.36 L903.97 2402.48 L906.67 2402.59 L909.38 2402.71 L912.08 2402.81 L914.79 2402.92 L917.51 2403.02 L920.22 2403.12 L922.94 2403.22 L925.65 2403.31 L928.37 2403.4 L931.1 2403.48 L933.5 2403.6 L935.5 2403.6 L935.5 2430.4 L161.3 2430.4 L161.3 1904 Z" fill="#00e4f8"/>
<path d="M163.3 2130 L163.97 2131.93 L164.27 2133.71 L164.57 2135.5 L164.87 2137.29 L165.18 2139.09 L165.5 2140.89 L165.82 2142.69 L166.14 2144.49 L166.48 2146.29 L166.81 2148.1 L167.16 2149.91 L167.51 2151.72 L167.86 2153.53 L168.23 2155.34 L168.6 2157.15 L168.97 2158.96 L169.35 2160.78 L169.74 2162.59 L170.14 2164.41 L170.54 2166.23 L170.95 2168.04 L171.36 2169.86 L171.79 2171.67 L172.22 2173.49 L172.65 2175.31 L173.1 2177.12 L173.55 2178.94 L174.01 2180.75 L174.47 2182.56 L174.95 2184.37 L175.43 2186.18 L175.92 2187.99 L176.42 2189.8 L176.93 2191.6 L177.44 2193.41 L177.96 2195.21 L178.49 2197.01 L179.03 2198.8 L179.58 2200.6 L180.14 2202.39 L180.7 2204.18 L181.28 2205.96 L181.86 2207.75 L182.45 2209.53 L183.05 2211.3 L183.66 2213.08 L184.28 2214.84 L184.91 2216.61 L185.55 2218.37 L186.19 2220.13 L186.85 2221.88 L187.52 2223.63 L188.19 2225.37 L188.88 2227.11 L189.58 2228.84 L190.28 2230.57 L191 2232.3 L191.73 2234.02 L192.47 2235.73 L193.21 2237.44 L193.97 2239.14 L194.74 2240.83 L195.52 2242.52 L196.31 2244.21 L197.11 2245.88 L197.92 2247.55 L198.75 2249.22 L199.58 2250.87 L200.43 2252.52 L201.29 2254.17 L202.16 2255.8 L203.04 2257.43 L203.93 2259.05 L204.83 2260.66 L205.75 2262.27 L206.67 2263.86 L207.61 2265.45 L208.57 2267.03 L209.53 2268.6 L210.51 2270.17 L211.49 2271.72 L212.49 2273.27 L213.51 2274.8 L214.53 2276.33 L215.57 2277.85 L216.63 2279.36 L217.69 2280.86 L218.77 2282.34 L219.86 2283.82 L220.96 2285.29 L222.08 2286.75 L223.21 2288.2 L224.36 2289.63 L225.51 2291.06 L226.68 2292.48 L227.87 2293.88 L229.07 2295.28 L230.28 2296.66 L231.51 2298.03 L232.75 2299.39 L234.01 2300.74 L235.28 2302.07 L236.56 2303.39 L237.86 2304.71 L239.17 2306 L240.5 2307.29 L241.84 2308.56 L243.2 2309.82 L244.57 2311.07 L245.96 2312.31 L247.36 2313.53 L248.78 2314.74 L250.21 2315.93 L251.66 2317.11 L253.12 2318.28 L254.59 2319.44 L256.08 2320.58 L257.57 2321.72 L259.08 2322.83 L260.6 2323.94 L262.13 2325.04 L263.67 2326.12 L265.22 2327.19 L266.77 2328.25 L268.34 2329.3 L269.91 2330.34 L271.49 2331.36 L273.08 2332.38 L274.67 2333.38 L276.28 2334.37 L277.88 2335.35 L279.5 2336.32 L281.12 2337.28 L282.74 2338.23 L284.38 2339.16 L286.01 2340.08 L287.66 2340.99 L289.3 2341.89 L290.96 2342.78 L292.62 2343.65 L294.28 2344.51 L295.94 2345.36 L297.61 2346.2 L299.29 2347.03 L300.97 2347.84 L302.65 2348.64 L304.34 2349.43 L306.02 2350.21 L307.72 2350.97 L309.41 2351.72 L311.11 2352.47 L312.81 2353.2 L314.52 2353.92 L316.23 2354.62 L317.94 2355.32 L319.65 2356.01 L321.37 2356.69 L323.09 2357.36 L324.82 2358.02 L326.54 2358.67 L328.27 2359.31 L330.01 2359.94 L331.74 2360.56 L333.48 2361.18 L335.22 2361.78 L336.97 2362.38 L338.71 2362.98 L340.46 2363.56 L342.21 2364.14 L343.96 2364.72 L345.72 2365.29 L347.47 2365.85 L349.23 2366.42 L350.99 2366.97 L352.75 2367.53 L354.51 2368.08 L356.28 2368.62 L358.04 2369.16 L359.81 2369.7 L361.58 2370.23 L363.35 2370.76 L365.12 2371.29 L366.89 2371.81 L368.67 2372.33 L370.45 2372.84 L372.22 2373.35 L374 2373.85 L375.78 2374.36 L377.56 2374.85 L379.35 2375.35 L381.13 2375.84 L382.92 2376.32 L384.71 2376.8 L386.5 2377.28 L388.29 2377.76 L390.08 2378.23 L391.87 2378.69 L393.66 2379.16 L395.46 2379.62 L397.26 2380.07 L399.05 2380.53 L400.85 2380.97 L402.65 2381.42 L404.46 2381.86 L406.26 2382.3 L408.06 2382.73 L409.87 2383.17 L411.67 2383.59 L413.48 2384.02 L415.29 2384.44 L417.1 2384.85 L418.91 2385.27 L420.72 2385.68 L422.54 2386.09 L424.35 2386.49 L426.17 2386.89 L427.98 2387.29 L429.8 2387.68 L431.62 2388.07 L433.44 2388.46 L435.26 2388.84 L437.08 2389.22 L438.9 2389.6 L440.72 2389.97 L442.55 2390.35 L444.37 2390.71 L446.2 2391.08 L448.03 2391.44 L449.85 2391.8 L451.68 2392.15 L453.51 2392.51 L455.34 2392.86 L457.17 2393.2 L459 2393.55 L460.84 2393.89 L462.67 2394.23 L464.5 2394.56 L466.34 2394.89 L468.17 2395.22 L470.01 2395.55 L471.85 2395.87 L473.69 2396.19 L475.52 2396.51 L477.36 2396.83 L479.2 2397.14 L481.04 2397.45 L482.89 2397.75 L484.73 2398.06 L486.57 2398.36 L488.41 2398.66 L490.26 2398.96 L492.1 2399.25 L493.94 2399.54 L495.79 2399.83 L497.63 2400.12 L499.48 2400.4 L501.33 2400.68 L503.17 2400.96 L505.02 2401.23 L506.87 2401.51 L508.72 2401.78 L510.57 2402.05 L512.42 2402.31 L514.27 2402.58 L516.12 2402.84 L517.97 2403.1 L519.82 2403.36 L521.67 2403.61 L523.52 2403.86 L525.37 2404.11 L527.22 2404.36 L529.08 2404.61 L530.93 2404.85 L532.78 2405.09 L534.63 2405.33 L536.49 2405.57 L538.34 2405.81 L540.2 2406.04 L542.05 2406.27 L543.9 2406.5 L545.76 2406.73 L547.61 2406.95 L549.47 2407.17 L551.32 2407.4 L553.18 2407.61 L555.03 2407.83 L556.89 2408.05 L558.74 2408.26 L560.6 2408.47 L562.45 2408.68 L564.31 2408.89 L566.16 2409.1 L568.02 2409.3 L569.87 2409.5 L571.73 2409.7 L573.58 2409.9 L575.44 2410.1 L577.29 2410.3 L579.15 2410.49 L581 2410.68 L582.86 2410.87 L584.71 2411.06 L586.57 2411.25 L588.42 2411.44 L590.28 2411.62 L592.13 2411.8 L593.98 2411.99 L595.84 2412.17 L597.69 2412.35 L599.54 2412.52 L601.4 2412.7 L603.25 2412.87 L605.1 2413.05 L606.95 2413.22 L608.81 2413.39 L610.66 2413.56 L612.51 2413.73 L614.36 2413.89 L616.21 2414.06 L618.06 2414.22 L619.91 2414.38 L621.76 2414.55 L623.61 2414.71 L625.46 2414.87 L627.3 2415.03 L629.15 2415.18 L631 2415.34 L632.85 2415.5 L634.7 2415.65 L636.54 2415.81 L638.39 2415.96 L640.24 2416.12 L642.08 2416.27 L643.93 2416.42 L645.77 2416.57 L647.62 2416.73 L649.46 2416.88 L651.31 2417.03 L653.15 2417.18 L655 2417.33 L656.84 2417.48 L658.69 2417.64 L660.53 2417.79 L662.38 2417.94 L664.22 2418.09 L666.07 2418.24 L667.91 2418.4 L669.76 2418.55 L671.6 2418.7 L673.44 2418.86 L675.29 2419.01 L677.13 2419.17 L678.98 2419.32 L680.82 2419.48 L682.67 2419.64 L684.51 2419.8 L686.35 2419.96 L688.2 2420.12 L690.04 2420.28 L691.89 2420.44 L693.73 2420.61 L695.58 2420.77 L697.42 2420.94 L699.27 2421.11 L701.12 2421.28 L702.96 2421.45 L704.81 2421.62 L706.65 2421.79 L708.5 2421.97 L710.35 2422.15 L712.19 2422.32 L714.04 2422.51 L715.89 2422.69 L717.74 2422.87 L719.58 2423.06 L721.43 2423.25 L723.28 2423.44 L725.13 2423.63 L726.98 2423.83 L728.83 2424.03 L730.68 2424.23 L732.53 2424.43 L734.38 2424.63 L736.23 2424.84 L738.08 2425.05 L739.93 2425.26 L741.79 2425.48 L743.64 2425.7 L745.49 2425.92 L747.35 2426.14 L749.2 2426.37 L751.06 2426.6 L752.91 2426.83 L754.77 2427.07 L756.62 2427.31 L758.48 2427.55 L760.34 2427.8 L762.2 2428.05 L764 2428.4 L764 2430.4 L161.3 2430.4 L161.3 2130 Z" fill="#a4ff53"/>
<path d="M163.3 2228 L163.75 2228.57 L164 2229.76 L164.26 2230.94 L164.53 2232.12 L164.8 2233.3 L165.08 2234.47 L165.37 2235.64 L165.67 2236.8 L165.98 2237.97 L166.29 2239.12 L166.61 2240.28 L166.94 2241.43 L167.27 2242.58 L167.61 2243.72 L167.96 2244.86 L168.32 2246 L168.68 2247.13 L169.05 2248.26 L169.43 2249.38 L169.82 2250.5 L170.21 2251.62 L170.61 2252.73 L171.02 2253.84 L171.43 2254.95 L171.85 2256.05 L172.28 2257.15 L172.71 2258.25 L173.16 2259.34 L173.6 2260.43 L174.06 2261.51 L174.52 2262.59 L174.99 2263.66 L175.46 2264.74 L175.95 2265.8 L176.44 2266.87 L176.93 2267.93 L177.43 2268.98 L177.94 2270.04 L178.45 2271.08 L178.98 2272.13 L179.5 2273.17 L180.04 2274.21 L180.58 2275.24 L181.13 2276.27 L181.68 2277.29 L182.24 2278.31 L182.8 2279.33 L183.37 2280.34 L183.95 2281.35 L184.54 2282.35 L185.13 2283.35 L185.72 2284.34 L186.33 2285.34 L186.93 2286.32 L187.55 2287.31 L188.17 2288.29 L188.79 2289.26 L189.43 2290.23 L190.06 2291.2 L190.71 2292.16 L191.36 2293.12 L192.01 2294.07 L192.67 2295.02 L193.34 2295.97 L194.01 2296.91 L194.69 2297.84 L195.37 2298.77 L196.06 2299.7 L196.75 2300.63 L197.45 2301.55 L198.16 2302.46 L198.87 2303.37 L199.58 2304.28 L200.3 2305.18 L201.03 2306.08 L201.76 2306.97 L202.5 2307.86 L203.24 2308.74 L203.99 2309.62 L204.74 2310.49 L205.5 2311.37 L206.26 2312.23 L207.03 2313.09 L207.8 2313.95 L208.58 2314.8 L209.36 2315.65 L210.15 2316.49 L210.94 2317.33 L211.74 2318.17 L212.54 2319 L213.34 2319.82 L214.15 2320.64 L214.97 2321.46 L215.79 2322.27 L216.62 2323.07 L217.44 2323.88 L218.28 2324.67 L219.12 2325.46 L219.96 2326.25 L220.81 2327.03 L221.66 2327.81 L222.52 2328.59 L223.38 2329.35 L224.24 2330.12 L225.11 2330.88 L225.98 2331.63 L226.86 2332.38 L227.74 2333.13 L228.63 2333.87 L229.52 2334.6 L230.41 2335.33 L231.31 2336.05 L232.21 2336.78 L233.12 2337.49 L234.03 2338.2 L234.94 2338.91 L235.86 2339.61 L236.78 2340.3 L237.71 2340.99 L238.64 2341.68 L239.57 2342.36 L240.51 2343.03 L241.45 2343.71 L242.39 2344.37 L243.34 2345.03 L244.29 2345.69 L245.25 2346.34 L246.2 2346.98 L247.17 2347.62 L248.13 2348.26 L249.1 2348.89 L250.07 2349.51 L251.05 2350.13 L252.02 2350.75 L253.01 2351.36 L253.99 2351.96 L254.98 2352.56 L255.97 2353.16 L256.96 2353.75 L257.96 2354.34 L258.96 2354.92 L259.96 2355.5 L260.97 2356.07 L261.98 2356.64 L262.99 2357.2 L264.01 2357.76 L265.02 2358.31 L266.04 2358.86 L267.07 2359.41 L268.09 2359.95 L269.12 2360.49 L270.15 2361.02 L271.18 2361.55 L272.22 2362.07 L273.26 2362.59 L274.3 2363.11 L275.34 2363.62 L276.38 2364.13 L277.43 2364.64 L278.48 2365.14 L279.53 2365.63 L280.58 2366.13 L281.64 2366.61 L282.7 2367.1 L283.76 2367.58 L284.82 2368.06 L285.88 2368.53 L286.95 2369 L288.02 2369.47 L289.09 2369.93 L290.16 2370.39 L291.23 2370.85 L292.3 2371.3 L293.38 2371.75 L294.46 2372.2 L295.54 2372.64 L296.62 2373.08 L297.7 2373.52 L298.79 2373.95 L299.87 2374.38 L300.96 2374.81 L302.05 2375.24 L303.14 2375.66 L304.23 2376.07 L305.32 2376.49 L306.41 2376.9 L307.51 2377.31 L308.6 2377.72 L309.7 2378.12 L310.8 2378.52 L311.89 2378.92 L312.99 2379.32 L314.09 2379.71 L315.2 2380.1 L316.3 2380.49 L317.4 2380.88 L318.5 2381.26 L319.61 2381.64 L320.71 2382.02 L321.82 2382.4 L322.93 2382.77 L324.03 2383.14 L325.14 2383.51 L326.25 2383.87 L327.36 2384.24 L328.47 2384.6 L329.58 2384.96 L330.69 2385.32 L331.81 2385.67 L332.92 2386.02 L334.03 2386.37 L335.15 2386.72 L336.26 2387.07 L337.38 2387.41 L338.49 2387.75 L339.61 2388.09 L340.73 2388.43 L341.85 2388.76 L342.97 2389.1 L344.09 2389.43 L345.21 2389.75 L346.33 2390.08 L347.45 2390.4 L348.57 2390.73 L349.69 2391.05 L350.82 2391.37 L351.94 2391.68 L353.06 2391.99 L354.19 2392.31 L355.31 2392.62 L356.44 2392.92 L357.57 2393.23 L358.69 2393.54 L359.82 2393.84 L360.95 2394.14 L362.08 2394.44 L363.21 2394.73 L364.34 2395.03 L365.47 2395.32 L366.6 2395.61 L367.73 2395.9 L368.86 2396.19 L369.99 2396.47 L371.13 2396.76 L372.26 2397.04 L373.39 2397.32 L374.53 2397.6 L375.66 2397.88 L376.8 2398.15 L377.93 2398.42 L379.07 2398.7 L380.2 2398.97 L381.34 2399.23 L382.48 2399.5 L383.62 2399.77 L384.75 2400.03 L385.89 2400.29 L387.03 2400.55 L388.17 2400.81 L389.31 2401.07 L390.45 2401.33 L391.59 2401.58 L392.73 2401.83 L393.87 2402.08 L395.01 2402.34 L396.15 2402.58 L397.29 2402.83 L398.44 2403.08 L399.58 2403.32 L400.72 2403.56 L401.86 2403.81 L403.01 2404.05 L404.15 2404.29 L405.29 2404.52 L406.44 2404.76 L407.58 2404.99 L408.73 2405.23 L409.87 2405.46 L411.02 2405.69 L412.16 2405.92 L413.31 2406.15 L414.45 2406.38 L415.6 2406.6 L416.75 2406.83 L417.89 2407.05 L419.04 2407.28 L420.19 2407.5 L421.33 2407.72 L422.48 2407.94 L423.63 2408.16 L424.78 2408.38 L425.92 2408.59 L427.07 2408.81 L428.22 2409.02 L429.37 2409.24 L430.52 2409.45 L431.67 2409.66 L432.81 2409.87 L433.96 2410.08 L435.11 2410.29 L436.26 2410.5 L437.41 2410.7 L438.56 2410.91 L439.71 2411.11 L440.86 2411.32 L442.01 2411.52 L443.16 2411.72 L444.31 2411.92 L445.46 2412.12 L446.61 2412.32 L447.76 2412.52 L448.91 2412.72 L450.06 2412.92 L451.21 2413.12 L452.36 2413.31 L453.5 2413.51 L454.65 2413.7 L455.8 2413.9 L456.95 2414.09 L458.1 2414.29 L459.25 2414.48 L460.4 2414.67 L461.55 2414.86 L462.7 2415.05 L463.85 2415.24 L465 2415.43 L466.15 2415.62 L467.3 2415.81 L468.45 2416 L469.6 2416.18 L470.75 2416.37 L471.9 2416.56 L473.05 2416.74 L474.2 2416.93 L475.35 2417.12 L476.5 2417.3 L477.64 2417.49 L478.79 2417.67 L479.94 2417.85 L481.09 2418.04 L482.24 2418.22 L483.39 2418.4 L484.53 2418.59 L485.68 2418.77 L486.83 2418.95 L487.98 2419.13 L489.12 2419.31 L490.27 2419.5 L491.42 2419.68 L492.56 2419.86 L493.71 2420.04 L494.86 2420.22 L496 2420.4 L497.15 2420.58 L498.29 2420.76 L499.44 2420.94 L500.58 2421.12 L501.73 2421.3 L502.87 2421.48 L504.02 2421.66 L505.16 2421.84 L506.3 2422.02 L507.45 2422.2 L508.59 2422.38 L509.73 2422.56 L510.88 2422.74 L512.02 2422.92 L513.16 2423.1 L514.3 2423.28 L515.44 2423.46 L516.58 2423.64 L517.72 2423.82 L518.86 2424 L520 2424.19 L521.14 2424.37 L522.28 2424.55 L523.42 2424.73 L524.56 2424.91 L525.7 2425.09 L526.83 2425.28 L527.97 2425.46 L529.11 2425.64 L530.24 2425.83 L531.38 2426.01 L532.51 2426.19 L533.65 2426.38 L534.78 2426.56 L535.92 2426.75 L537.05 2426.93 L538.19 2427.12 L539.32 2427.31 L540.45 2427.49 L541.58 2427.68 L542.71 2427.87 L543.84 2428.06 L544.97 2428.24 L546.1 2428.43 L547.23 2428.62 L548.6 2428.4 L548.6 2430.4 L161.3 2430.4 L161.3 2228 Z" fill="#f8f500"/>
<path d="M163.3 2324.5 L163.4 2324.76 L163.62 2325.24 L163.84 2325.73 L164.06 2326.21 L164.28 2326.69 L164.5 2327.17 L164.73 2327.64 L164.95 2328.12 L165.18 2328.59 L165.41 2329.07 L165.64 2329.54 L165.88 2330.01 L166.11 2330.48 L166.35 2330.94 L166.58 2331.41 L166.82 2331.87 L167.06 2332.34 L167.31 2332.8 L167.55 2333.26 L167.8 2333.72 L168.04 2334.17 L168.29 2334.63 L168.54 2335.09 L168.79 2335.54 L169.05 2335.99 L169.3 2336.44 L169.56 2336.89 L169.82 2337.34 L170.08 2337.78 L170.34 2338.23 L170.6 2338.67 L170.86 2339.11 L171.13 2339.55 L171.4 2339.99 L171.66 2340.43 L171.93 2340.87 L172.2 2341.3 L172.48 2341.73 L172.75 2342.17 L173.03 2342.6 L173.3 2343.03 L173.58 2343.45 L173.86 2343.88 L174.14 2344.31 L174.43 2344.73 L174.71 2345.15 L175 2345.57 L175.28 2345.99 L175.57 2346.41 L175.86 2346.83 L176.15 2347.25 L176.45 2347.66 L176.74 2348.07 L177.04 2348.48 L177.33 2348.9 L177.63 2349.3 L177.93 2349.71 L178.23 2350.12 L178.53 2350.52 L178.84 2350.93 L179.14 2351.33 L179.45 2351.73 L179.76 2352.13 L180.06 2352.53 L180.38 2352.93 L180.69 2353.32 L181 2353.72 L181.31 2354.11 L181.63 2354.5 L181.95 2354.89 L182.26 2355.28 L182.58 2355.67 L182.9 2356.06 L183.23 2356.45 L183.55 2356.83 L183.87 2357.21 L184.2 2357.59 L184.53 2357.97 L184.86 2358.35 L185.19 2358.73 L185.52 2359.11 L185.85 2359.48 L186.18 2359.86 L186.52 2360.23 L186.85 2360.6 L187.19 2360.97 L187.53 2361.34 L187.87 2361.71 L188.21 2362.08 L188.55 2362.44 L188.89 2362.81 L189.24 2363.17 L189.58 2363.53 L189.93 2363.89 L190.28 2364.25 L190.63 2364.61 L190.98 2364.97 L191.33 2365.32 L191.68 2365.68 L192.03 2366.03 L192.39 2366.38 L192.75 2366.73 L193.1 2367.08 L193.46 2367.43 L193.82 2367.78 L194.18 2368.12 L194.54 2368.47 L194.9 2368.81 L195.27 2369.15 L195.63 2369.49 L196 2369.83 L196.37 2370.17 L196.74 2370.51 L197.1 2370.84 L197.47 2371.18 L197.85 2371.51 L198.22 2371.85 L198.59 2372.18 L198.97 2372.51 L199.34 2372.84 L199.72 2373.17 L200.1 2373.49 L200.48 2373.82 L200.86 2374.14 L201.24 2374.47 L201.62 2374.79 L202 2375.11 L202.39 2375.43 L202.77 2375.75 L203.16 2376.07 L203.54 2376.38 L203.93 2376.7 L204.32 2377.01 L204.71 2377.32 L205.1 2377.64 L205.49 2377.95 L205.89 2378.26 L206.28 2378.57 L206.68 2378.87 L207.07 2379.18 L207.47 2379.48 L207.87 2379.79 L208.27 2380.09 L208.66 2380.39 L209.07 2380.69 L209.47 2380.99 L209.87 2381.29 L210.27 2381.59 L210.68 2381.89 L211.08 2382.18 L211.49 2382.47 L211.9 2382.77 L212.3 2383.06 L212.71 2383.35 L213.12 2383.64 L213.53 2383.93 L213.94 2384.22 L214.36 2384.5 L214.77 2384.79 L215.18 2385.07 L215.6 2385.36 L216.01 2385.64 L216.43 2385.92 L216.85 2386.2 L217.26 2386.48 L217.68 2386.76 L218.1 2387.03 L218.52 2387.31 L218.95 2387.58 L219.37 2387.86 L219.79 2388.13 L220.21 2388.4 L220.64 2388.67 L221.06 2388.94 L221.49 2389.21 L221.92 2389.48 L222.35 2389.75 L222.77 2390.01 L223.2 2390.28 L223.63 2390.54 L224.06 2390.8 L224.5 2391.06 L224.93 2391.32 L225.36 2391.58 L225.8 2391.84 L226.23 2392.1 L226.67 2392.36 L227.1 2392.61 L227.54 2392.87 L227.98 2393.12 L228.41 2393.37 L228.85 2393.62 L229.29 2393.87 L229.73 2394.12 L230.17 2394.37 L230.61 2394.62 L231.06 2394.87 L231.5 2395.11 L231.94 2395.36 L232.39 2395.6 L232.83 2395.84 L233.28 2396.08 L233.72 2396.32 L234.17 2396.56 L234.62 2396.8 L235.07 2397.04 L235.51 2397.28 L235.96 2397.51 L236.41 2397.75 L236.86 2397.98 L237.32 2398.21 L237.77 2398.45 L238.22 2398.68 L238.67 2398.91 L239.13 2399.14 L239.58 2399.37 L240.03 2399.59 L240.49 2399.82 L240.95 2400.05 L241.4 2400.27 L241.86 2400.49 L242.32 2400.72 L242.77 2400.94 L243.23 2401.16 L243.69 2401.38 L244.15 2401.6 L244.61 2401.82 L245.07 2402.04 L245.53 2402.25 L246 2402.47 L246.46 2402.68 L246.92 2402.9 L247.38 2403.11 L247.85 2403.32 L248.31 2403.53 L248.78 2403.74 L249.24 2403.95 L249.71 2404.16 L250.17 2404.37 L250.64 2404.57 L251.11 2404.78 L251.58 2404.99 L252.04 2405.19 L252.51 2405.39 L252.98 2405.6 L253.45 2405.8 L253.92 2406 L254.39 2406.2 L254.86 2406.4 L255.33 2406.6 L255.8 2406.79 L256.27 2406.99 L256.75 2407.19 L257.22 2407.38 L257.69 2407.57 L258.16 2407.77 L258.64 2407.96 L259.11 2408.15 L259.59 2408.34 L260.06 2408.53 L260.54 2408.72 L261.01 2408.91 L261.49 2409.1 L261.96 2409.28 L262.44 2409.47 L262.92 2409.65 L263.39 2409.84 L263.87 2410.02 L264.35 2410.2 L264.83 2410.39 L265.31 2410.57 L265.79 2410.75 L266.26 2410.93 L266.74 2411.11 L267.22 2411.28 L267.7 2411.46 L268.18 2411.64 L268.66 2411.81 L269.15 2411.99 L269.63 2412.16 L270.11 2412.33 L270.59 2412.51 L271.07 2412.68 L271.55 2412.85 L272.04 2413.02 L272.52 2413.19 L273 2413.36 L273.48 2413.53 L273.97 2413.69 L274.45 2413.86 L274.93 2414.03 L275.42 2414.19 L275.9 2414.35 L276.39 2414.52 L276.87 2414.68 L277.35 2414.84 L277.84 2415 L278.32 2415.17 L278.81 2415.32 L279.29 2415.48 L279.78 2415.64 L280.27 2415.8 L280.75 2415.96 L281.24 2416.11 L281.72 2416.27 L282.21 2416.42 L282.7 2416.58 L283.18 2416.73 L283.67 2416.88 L284.16 2417.04 L284.64 2417.19 L285.13 2417.34 L285.62 2417.49 L286.1 2417.64 L286.59 2417.79 L287.08 2417.93 L287.56 2418.08 L288.05 2418.23 L288.54 2418.37 L289.03 2418.52 L289.51 2418.66 L290 2418.81 L290.49 2418.95 L290.98 2419.09 L291.47 2419.24 L291.95 2419.38 L292.44 2419.52 L292.93 2419.66 L293.42 2419.8 L293.91 2419.94 L294.39 2420.07 L294.88 2420.21 L295.37 2420.35 L295.86 2420.48 L296.34 2420.62 L296.83 2420.75 L297.32 2420.89 L297.81 2421.02 L298.3 2421.15 L298.78 2421.29 L299.27 2421.42 L299.76 2421.55 L300.25 2421.68 L300.74 2421.81 L301.22 2421.94 L301.71 2422.07 L302.2 2422.2 L302.69 2422.32 L303.17 2422.45 L303.66 2422.58 L304.15 2422.7 L304.63 2422.83 L305.12 2422.95 L305.61 2423.08 L306.09 2423.2 L306.58 2423.32 L307.07 2423.44 L307.55 2423.57 L308.04 2423.69 L308.53 2423.81 L309.01 2423.93 L309.5 2424.05 L309.98 2424.17 L310.47 2424.28 L310.96 2424.4 L311.44 2424.52 L311.93 2424.63 L312.41 2424.75 L312.9 2424.87 L313.38 2424.98 L313.86 2425.1 L314.35 2425.21 L314.83 2425.32 L315.32 2425.44 L315.8 2425.55 L316.28 2425.66 L316.77 2425.77 L317.25 2425.88 L317.73 2425.99 L318.21 2426.1 L318.7 2426.21 L319.18 2426.32 L319.66 2426.43 L320.14 2426.53 L320.62 2426.64 L321.1 2426.75 L321.59 2426.85 L322.07 2426.96 L322.55 2427.06 L323.03 2427.17 L323.51 2427.27 L323.98 2427.38 L324.46 2427.48 L324.94 2427.58 L325.42 2427.68 L325.9 2427.79 L326.38 2427.89 L326.85 2427.99 L327.5 2428.4 L327.5 2430.4 L161.3 2430.4 L161.3 2324.5 Z" fill="#ff9400"/>
<path d="M163.3 2375.6 L163.21 2375.96 L163.33 2376.17 L163.44 2376.37 L163.56 2376.58 L163.67 2376.78 L163.79 2376.99 L163.91 2377.19 L164.02 2377.4 L164.14 2377.6 L164.26 2377.81 L164.38 2378.01 L164.5 2378.21 L164.62 2378.41 L164.74 2378.61 L164.86 2378.81 L164.99 2379.01 L165.11 2379.21 L165.23 2379.41 L165.36 2379.61 L165.48 2379.8 L165.61 2380 L165.73 2380.19 L165.86 2380.39 L165.99 2380.59 L166.12 2380.78 L166.25 2380.97 L166.38 2381.17 L166.51 2381.36 L166.64 2381.55 L166.77 2381.74 L166.9 2381.93 L167.03 2382.12 L167.16 2382.31 L167.3 2382.5 L167.43 2382.69 L167.57 2382.88 L167.7 2383.07 L167.84 2383.26 L167.97 2383.44 L168.11 2383.63 L168.25 2383.81 L168.39 2384 L168.53 2384.18 L168.67 2384.37 L168.81 2384.55 L168.95 2384.73 L169.09 2384.92 L169.23 2385.1 L169.37 2385.28 L169.51 2385.46 L169.66 2385.64 L169.8 2385.82 L169.95 2386 L170.09 2386.18 L170.24 2386.36 L170.38 2386.53 L170.53 2386.71 L170.68 2386.89 L170.82 2387.06 L170.97 2387.24 L171.12 2387.41 L171.27 2387.59 L171.42 2387.76 L171.57 2387.94 L171.72 2388.11 L171.87 2388.28 L172.02 2388.46 L172.18 2388.63 L172.33 2388.8 L172.48 2388.97 L172.64 2389.14 L172.79 2389.31 L172.95 2389.48 L173.1 2389.65 L173.26 2389.82 L173.41 2389.98 L173.57 2390.15 L173.73 2390.32 L173.89 2390.48 L174.04 2390.65 L174.2 2390.82 L174.36 2390.98 L174.52 2391.14 L174.68 2391.31 L174.84 2391.47 L175.01 2391.64 L175.17 2391.8 L175.33 2391.96 L175.49 2392.12 L175.65 2392.28 L175.82 2392.44 L175.98 2392.6 L176.15 2392.76 L176.31 2392.92 L176.48 2393.08 L176.64 2393.24 L176.81 2393.4 L176.98 2393.56 L177.14 2393.72 L177.31 2393.87 L177.48 2394.03 L177.65 2394.18 L177.82 2394.34 L177.99 2394.5 L178.16 2394.65 L178.33 2394.8 L178.5 2394.96 L178.67 2395.11 L178.84 2395.26 L179.01 2395.42 L179.19 2395.57 L179.36 2395.72 L179.53 2395.87 L179.71 2396.02 L179.88 2396.17 L180.05 2396.32 L180.23 2396.47 L180.4 2396.62 L180.58 2396.77 L180.76 2396.92 L180.93 2397.07 L181.11 2397.22 L181.29 2397.36 L181.46 2397.51 L181.64 2397.66 L181.82 2397.8 L182 2397.95 L182.18 2398.09 L182.36 2398.24 L182.54 2398.38 L182.72 2398.53 L182.9 2398.67 L183.08 2398.81 L183.26 2398.96 L183.44 2399.1 L183.63 2399.24 L183.81 2399.38 L183.99 2399.52 L184.18 2399.66 L184.36 2399.81 L184.54 2399.95 L184.73 2400.09 L184.91 2400.23 L185.1 2400.36 L185.28 2400.5 L185.47 2400.64 L185.66 2400.78 L185.84 2400.92 L186.03 2401.05 L186.22 2401.19 L186.4 2401.33 L186.59 2401.46 L186.78 2401.6 L186.97 2401.74 L187.16 2401.87 L187.35 2402.01 L187.53 2402.14 L187.72 2402.28 L187.91 2402.41 L188.1 2402.54 L188.3 2402.68 L188.49 2402.81 L188.68 2402.94 L188.87 2403.07 L189.06 2403.21 L189.25 2403.34 L189.45 2403.47 L189.64 2403.6 L189.83 2403.73 L190.02 2403.86 L190.22 2403.99 L190.41 2404.12 L190.61 2404.25 L190.8 2404.38 L190.99 2404.51 L191.19 2404.63 L191.39 2404.76 L191.58 2404.89 L191.78 2405.02 L191.97 2405.15 L192.17 2405.27 L192.37 2405.4 L192.56 2405.52 L192.76 2405.65 L192.96 2405.78 L193.15 2405.9 L193.35 2406.03 L193.55 2406.15 L193.75 2406.28 L193.95 2406.4 L194.15 2406.52 L194.34 2406.65 L194.54 2406.77 L194.74 2406.89 L194.94 2407.02 L195.14 2407.14 L195.34 2407.26 L195.54 2407.38 L195.74 2407.5 L195.95 2407.63 L196.15 2407.75 L196.35 2407.87 L196.55 2407.99 L196.75 2408.11 L196.95 2408.23 L197.16 2408.35 L197.36 2408.47 L197.56 2408.59 L197.76 2408.7 L197.97 2408.82 L198.17 2408.94 L198.37 2409.06 L198.58 2409.18 L198.78 2409.3 L198.98 2409.41 L199.19 2409.53 L199.39 2409.65 L199.6 2409.76 L199.8 2409.88 L200.01 2410 L200.21 2410.11 L200.42 2410.23 L200.62 2410.34 L200.83 2410.46 L201.03 2410.57 L201.24 2410.69 L201.45 2410.8 L201.65 2410.92 L201.86 2411.03 L202.06 2411.15 L202.27 2411.26 L202.48 2411.37 L202.69 2411.49 L202.89 2411.6 L203.1 2411.71 L203.31 2411.82 L203.51 2411.94 L203.72 2412.05 L203.93 2412.16 L204.14 2412.27 L204.35 2412.38 L204.55 2412.49 L204.76 2412.61 L204.97 2412.72 L205.18 2412.83 L205.39 2412.94 L205.6 2413.05 L205.81 2413.16 L206.01 2413.27 L206.22 2413.38 L206.43 2413.49 L206.64 2413.6 L206.85 2413.71 L207.06 2413.81 L207.27 2413.92 L207.48 2414.03 L207.69 2414.14 L207.9 2414.25 L208.11 2414.36 L208.32 2414.46 L208.53 2414.57 L208.74 2414.68 L208.95 2414.79 L209.16 2414.89 L209.37 2415 L209.58 2415.11 L209.79 2415.21 L210 2415.32 L210.21 2415.43 L210.43 2415.53 L210.64 2415.64 L210.85 2415.75 L211.06 2415.85 L211.27 2415.96 L211.48 2416.06 L211.69 2416.17 L211.9 2416.27 L212.11 2416.38 L212.33 2416.48 L212.54 2416.59 L212.75 2416.69 L212.96 2416.8 L213.17 2416.9 L213.38 2417.01 L213.59 2417.11 L213.81 2417.21 L214.02 2417.32 L214.23 2417.42 L214.44 2417.52 L214.65 2417.63 L214.86 2417.73 L215.08 2417.83 L215.29 2417.94 L215.5 2418.04 L215.71 2418.14 L215.92 2418.24 L216.13 2418.35 L216.35 2418.45 L216.56 2418.55 L216.77 2418.65 L216.98 2418.76 L217.19 2418.86 L217.4 2418.96 L217.62 2419.06 L217.83 2419.16 L218.04 2419.27 L218.25 2419.37 L218.46 2419.47 L218.67 2419.57 L218.89 2419.67 L219.1 2419.77 L219.31 2419.87 L219.52 2419.97 L219.73 2420.07 L219.94 2420.18 L220.16 2420.28 L220.37 2420.38 L220.58 2420.48 L220.79 2420.58 L221 2420.68 L221.21 2420.78 L221.42 2420.88 L221.63 2420.98 L221.84 2421.08 L222.06 2421.18 L222.27 2421.28 L222.48 2421.38 L222.69 2421.48 L222.9 2421.58 L223.11 2421.68 L223.32 2421.78 L223.53 2421.88 L223.74 2421.98 L223.95 2422.08 L224.16 2422.18 L224.37 2422.28 L224.58 2422.37 L224.79 2422.47 L225 2422.57 L225.21 2422.67 L225.42 2422.77 L225.63 2422.87 L225.84 2422.97 L226.05 2423.07 L226.26 2423.17 L226.47 2423.27 L226.68 2423.37 L226.89 2423.46 L227.1 2423.56 L227.3 2423.66 L227.51 2423.76 L227.72 2423.86 L227.93 2423.96 L228.14 2424.06 L228.35 2424.16 L228.55 2424.25 L228.76 2424.35 L228.97 2424.45 L229.18 2424.55 L229.39 2424.65 L229.59 2424.75 L229.8 2424.85 L230.01 2424.94 L230.21 2425.04 L230.42 2425.14 L230.63 2425.24 L230.83 2425.34 L231.04 2425.44 L231.25 2425.54 L231.45 2425.64 L231.66 2425.73 L231.86 2425.83 L232.07 2425.93 L232.28 2426.03 L232.48 2426.13 L232.69 2426.23 L232.89 2426.33 L233.1 2426.42 L233.3 2426.52 L233.5 2426.62 L233.71 2426.72 L233.91 2426.82 L234.12 2426.92 L234.32 2427.02 L234.52 2427.12 L234.73 2427.22 L234.93 2427.31 L235.13 2427.41 L235.33 2427.51 L235.54 2427.61 L235.74 2427.71 L235.94 2427.81 L236.14 2427.91 L236.34 2428.01 L236.55 2428.11 L236.75 2428.21 L236.95 2428.31 L237.15 2428.41 L237.5 2428.4 L237.5 2430.4 L161.3 2430.4 L161.3 2375.6 Z" fill="#ff3800"/>
<path d="M163.3 2408.3 L163.36 2408.37 L163.42 2408.43 L163.48 2408.5 L163.54 2408.57 L163.6 2408.63 L163.66 2408.7 L163.72 2408.76 L163.78 2408.83 L163.84 2408.89 L163.9 2408.96 L163.96 2409.02 L164.02 2409.09 L164.08 2409.15 L164.14 2409.22 L164.2 2409.28 L164.26 2409.34 L164.32 2409.41 L164.38 2409.47 L164.44 2409.53 L164.51 2409.6 L164.57 2409.66 L164.63 2409.72 L164.69 2409.79 L164.75 2409.85 L164.82 2409.91 L164.88 2409.97 L164.94 2410.04 L165 2410.1 L165.07 2410.16 L165.13 2410.22 L165.19 2410.28 L165.25 2410.34 L165.32 2410.4 L165.38 2410.46 L165.44 2410.52 L165.51 2410.59 L165.57 2410.65 L165.63 2410.71 L165.7 2410.77 L165.76 2410.83 L165.83 2410.89 L165.89 2410.94 L165.95 2411 L166.02 2411.06 L166.08 2411.12 L166.15 2411.18 L166.21 2411.24 L166.28 2411.3 L166.34 2411.36 L166.41 2411.42 L166.47 2411.47 L166.54 2411.53 L166.6 2411.59 L166.67 2411.65 L166.73 2411.7 L166.8 2411.76 L166.86 2411.82 L166.93 2411.88 L167 2411.93 L167.06 2411.99 L167.13 2412.05 L167.19 2412.1 L167.26 2412.16 L167.33 2412.22 L167.39 2412.27 L167.46 2412.33 L167.53 2412.38 L167.59 2412.44 L167.66 2412.5 L167.73 2412.55 L167.79 2412.61 L167.86 2412.66 L167.93 2412.72 L168 2412.77 L168.06 2412.83 L168.13 2412.88 L168.2 2412.93 L168.27 2412.99 L168.33 2413.04 L168.4 2413.1 L168.47 2413.15 L168.54 2413.21 L168.61 2413.26 L168.67 2413.31 L168.74 2413.37 L168.81 2413.42 L168.88 2413.47 L168.95 2413.53 L169.02 2413.58 L169.08 2413.63 L169.15 2413.69 L169.22 2413.74 L169.29 2413.79 L169.36 2413.84 L169.43 2413.9 L169.5 2413.95 L169.57 2414 L169.64 2414.05 L169.71 2414.1 L169.78 2414.16 L169.85 2414.21 L169.92 2414.26 L169.99 2414.31 L170.06 2414.36 L170.13 2414.41 L170.2 2414.46 L170.27 2414.51 L170.34 2414.57 L170.41 2414.62 L170.48 2414.67 L170.55 2414.72 L170.62 2414.77 L170.69 2414.82 L170.76 2414.87 L170.83 2414.92 L170.9 2414.97 L170.97 2415.02 L171.04 2415.07 L171.11 2415.12 L171.18 2415.17 L171.25 2415.22 L171.33 2415.27 L171.4 2415.32 L171.47 2415.37 L171.54 2415.42 L171.61 2415.47 L171.68 2415.52 L171.75 2415.56 L171.82 2415.61 L171.9 2415.66 L171.97 2415.71 L172.04 2415.76 L172.11 2415.81 L172.18 2415.86 L172.26 2415.91 L172.33 2415.95 L172.4 2416 L172.47 2416.05 L172.54 2416.1 L172.62 2416.15 L172.69 2416.19 L172.76 2416.24 L172.83 2416.29 L172.91 2416.34 L172.98 2416.39 L173.05 2416.43 L173.12 2416.48 L173.2 2416.53 L173.27 2416.58 L173.34 2416.62 L173.41 2416.67 L173.49 2416.72 L173.56 2416.76 L173.63 2416.81 L173.71 2416.86 L173.78 2416.91 L173.85 2416.95 L173.92 2417 L174 2417.05 L174.07 2417.09 L174.14 2417.14 L174.22 2417.19 L174.29 2417.23 L174.36 2417.28 L174.44 2417.33 L174.51 2417.37 L174.58 2417.42 L174.66 2417.46 L174.73 2417.51 L174.8 2417.56 L174.88 2417.6 L174.95 2417.65 L175.03 2417.69 L175.1 2417.74 L175.17 2417.79 L175.25 2417.83 L175.32 2417.88 L175.39 2417.92 L175.47 2417.97 L175.54 2418.01 L175.62 2418.06 L175.69 2418.11 L175.76 2418.15 L175.84 2418.2 L175.91 2418.24 L175.99 2418.29 L176.06 2418.33 L176.14 2418.38 L176.21 2418.42 L176.28 2418.47 L176.36 2418.51 L176.43 2418.56 L176.51 2418.6 L176.58 2418.65 L176.65 2418.69 L176.73 2418.74 L176.8 2418.78 L176.88 2418.83 L176.95 2418.87 L177.03 2418.92 L177.1 2418.96 L177.18 2419.01 L177.25 2419.05 L177.33 2419.1 L177.4 2419.14 L177.47 2419.19 L177.55 2419.23 L177.62 2419.28 L177.7 2419.32 L177.77 2419.37 L177.85 2419.41 L177.92 2419.46 L178 2419.5 L178.07 2419.55 L178.15 2419.59 L178.22 2419.64 L178.3 2419.68 L178.37 2419.72 L178.45 2419.77 L178.52 2419.81 L178.59 2419.86 L178.67 2419.9 L178.74 2419.95 L178.82 2419.99 L178.89 2420.04 L178.97 2420.08 L179.04 2420.13 L179.12 2420.17 L179.19 2420.21 L179.27 2420.26 L179.34 2420.3 L179.42 2420.35 L179.49 2420.39 L179.57 2420.44 L179.64 2420.48 L179.72 2420.53 L179.79 2420.57 L179.87 2420.61 L179.94 2420.66 L180.02 2420.7 L180.09 2420.75 L180.17 2420.79 L180.24 2420.84 L180.32 2420.88 L180.39 2420.93 L180.47 2420.97 L180.54 2421.02 L180.61 2421.06 L180.69 2421.1 L180.76 2421.15 L180.84 2421.19 L180.91 2421.24 L180.99 2421.28 L181.06 2421.33 L181.14 2421.37 L181.21 2421.42 L181.29 2421.46 L181.36 2421.51 L181.44 2421.55 L181.51 2421.6 L181.59 2421.64 L181.66 2421.69 L181.74 2421.73 L181.81 2421.78 L181.88 2421.82 L181.96 2421.87 L182.03 2421.91 L182.11 2421.96 L182.18 2422 L182.26 2422.05 L182.33 2422.09 L182.41 2422.14 L182.48 2422.18 L182.56 2422.23 L182.63 2422.27 L182.7 2422.32 L182.78 2422.36 L182.85 2422.41 L182.93 2422.45 L183 2422.5 L183.08 2422.54 L183.15 2422.59 L183.22 2422.63 L183.3 2422.68 L183.37 2422.72 L183.45 2422.77 L183.52 2422.82 L183.59 2422.86 L183.67 2422.91 L183.74 2422.95 L183.82 2423 L183.89 2423.04 L183.96 2423.09 L184.04 2423.14 L184.11 2423.18 L184.19 2423.23 L184.26 2423.27 L184.33 2423.32 L184.41 2423.37 L184.48 2423.41 L184.55 2423.46 L184.63 2423.51 L184.7 2423.55 L184.78 2423.6 L184.85 2423.65 L184.92 2423.69 L185 2423.74 L185.07 2423.79 L185.14 2423.83 L185.22 2423.88 L185.29 2423.93 L185.36 2423.97 L185.43 2424.02 L185.51 2424.07 L185.58 2424.11 L185.65 2424.16 L185.73 2424.21 L185.8 2424.26 L185.87 2424.3 L185.95 2424.35 L186.02 2424.4 L186.09 2424.45 L186.16 2424.49 L186.24 2424.54 L186.31 2424.59 L186.38 2424.64 L186.45 2424.69 L186.53 2424.73 L186.6 2424.78 L186.67 2424.83 L186.74 2424.88 L186.82 2424.93 L186.89 2424.98 L186.96 2425.03 L187.03 2425.07 L187.1 2425.12 L187.18 2425.17 L187.25 2425.22 L187.32 2425.27 L187.39 2425.32 L187.46 2425.37 L187.53 2425.42 L187.61 2425.47 L187.68 2425.52 L187.75 2425.57 L187.82 2425.62 L187.89 2425.66 L187.96 2425.71 L188.03 2425.76 L188.11 2425.81 L188.18 2425.86 L188.25 2425.92 L188.32 2425.97 L188.39 2426.02 L188.46 2426.07 L188.53 2426.12 L188.6 2426.17 L188.67 2426.22 L188.74 2426.27 L188.81 2426.32 L188.88 2426.37 L188.95 2426.42 L189.02 2426.47 L189.09 2426.53 L189.16 2426.58 L189.23 2426.63 L189.3 2426.68 L189.37 2426.73 L189.44 2426.78 L189.51 2426.84 L189.58 2426.89 L189.65 2426.94 L189.72 2426.99 L189.79 2427.05 L189.86 2427.1 L189.93 2427.15 L190 2427.2 L190.07 2427.26 L190.14 2427.31 L190.21 2427.36 L190.28 2427.42 L190.34 2427.47 L190.41 2427.52 L190.48 2427.58 L190.55 2427.63 L190.62 2427.69 L190.69 2427.74 L190.76 2427.79 L190.82 2427.85 L190.89 2427.9 L190.96 2427.96 L191.03 2428.01 L191.1 2428.07 L191.16 2428.12 L191.23 2428.18 L191.3 2428.23 L191.37 2428.29 L191.43 2428.34 L191.5 2428.4 L191.5 2430.4 L161.3 2430.4 L161.3 2408.3 Z" fill="#b60000"/>
</g>
<rect x="163.3" y="1579.3" width="770.2" height="849.1" fill="none" stroke="#333" stroke-width="1.2"/>
<line x1="163.3" y1="2428.4" x2="163.3" y2="2435.2" stroke="#222" stroke-width="1.5"/>
<text x="163.3" y="2468.6" text-anchor="middle" style="font-family:'Liberation Sans',Arial,sans-serif;font-weight:bold;font-size:38px">0</text>
<line x1="156.7" y1="2428.4" x2="163.3" y2="2428.4" stroke="#222" stroke-width="1.5"/>
<text x="150.5" y="2441.7" text-anchor="end" style="font-family:'Liberation Sans',Arial,sans-serif;font-weight:bold;font-size:38px">0</text>
<line x1="317.34" y1="2428.4" x2="317.34" y2="2435.2" stroke="#222" stroke-width="1.5"/>
<text x="317.34" y="2468.6" text-anchor="middle" style="font-family:'Liberation Sans',Arial,sans-serif;font-weight:bold;font-size:38px">2</text>
<line x1="156.7" y1="2258.58" x2="163.3" y2="2258.58" stroke="#222" stroke-width="1.5"/>
<text x="150.5" y="2271.88" text-anchor="end" style="font-family:'Liberation Sans',Arial,sans-serif;font-weight:bold;font-size:38px">2</text>
<line x1="471.38" y1="2428.4" x2="471.38" y2="2435.2" stroke="#222" stroke-width="1.5"/>
<text x="471.38" y="2468.6" text-anchor="middle" style="font-family:'Liberation Sans',Arial,sans-serif;font-weight:bold;font-size:38px">4</text>
<line x1="156.7" y1="2088.76" x2="163.3" y2="2088.76" stroke="#222" stroke-width="1.5"/>
<text x="150.5" y="2102.06" text-anchor="end" style="font-family:'Liberation Sans',Arial,sans-serif;font-weight:bold;font-size:38px">4</text>
<line x1="625.42" y1="2428.4" x2="625.42" y2="2435.2" stroke="#222" stroke-width="1.5"/>
<text x="625.42" y="2468.6" text-anchor="middle" style="font-family:'Liberation Sans',Arial,sans-serif;font-weight:bold;font-size:38px">6</text>
<line x1="156.7" y1="1918.94" x2="163.3" y2="1918.94" stroke="#222" stroke-width="1.5"/>
<text x="150.5" y="1932.24" text-anchor="end" style="font-family:'Liberation Sans',Arial,sans-serif;font-weight:bold;font-size:38px">6</text>
<line x1="779.46" y1="2428.4" x2="779.46" y2="2435.2" stroke="#222" stroke-width="1.5"/>
<text x="779.46" y="2468.6" text-anchor="middle" style="font-family:'Liberation Sans',Arial,sans-serif;font-weight:bold;font-size:38px">8</text>
<line x1="156.7" y1="1749.12" x2="163.3" y2="1749.12" stroke="#222" stroke-width="1.5"/>
<text x="150.5" y="1762.42" text-anchor="end" style="font-family:'Liberation Sans',Arial,sans-serif;font-weight:bold;font-size:38px">8</text>
<line x1="933.5" y1="2428.4" x2="933.5" y2="2435.2" stroke="#222" stroke-width="1.5"/>
<text x="933.5" y="2468.6" text-anchor="middle" style="font-family:'Liberation Sans',Arial,sans-serif;font-weight:bold;font-size:38px">10</text>
<line x1="156.7" y1="1579.3" x2="163.3" y2="1579.3" stroke="#222" stroke-width="1.5"/>
<text x="150.5" y="1592.6" text-anchor="end" style="font-family:'Liberation Sans',Arial,sans-serif;font-weight:bold;font-size:38px">10</text>
<text x="548.4" y="2516.5" text-anchor="middle" style="font-family:'Liberation Sans',Arial,sans-serif;font-weight:bold;font-size:46px">ERK inhibitor / Kd</text>
<text transform="translate(88 2002) rotate(-90)" text-anchor="middle" style="font-family:'Liberation Sans',Arial,sans-serif;font-weight:bold;font-size:46px">PI3K/AKT inhibitor / Kd</text>
<rect x="981.2" y="2343.19" width="43.4" height="85.51" fill="#0000b6"/>
<rect x="981.2" y="2258.28" width="43.4" height="85.51" fill="#0018ff"/>
<rect x="981.2" y="2173.37" width="43.4" height="85.51" fill="#0080ff"/>
<rect x="981.2" y="2088.46" width="43.4" height="85.51" fill="#00e4f8"/>
<rect x="981.2" y="2003.55" width="43.4" height="85.51" fill="#53ffa4"/>
<rect x="981.2" y="1918.64" width="43.4" height="85.51" fill="#a4ff53"/>
<rect x="981.2" y="1833.73" width="43.4" height="85.51" fill="#f8f500"/>
<rect x="981.2" y="1748.82" width="43.4" height="85.51" fill="#ff9400"/>
<rect x="981.2" y="1663.91" width="43.4" height="85.51" fill="#ff3800"/>
<rect x="981.2" y="1579" width="43.4" height="85.51" fill="#b60000"/>
<rect x="981.2" y="1579.3" width="43.4" height="849.1" fill="none" stroke="#222" stroke-width="1"/>
<line x1="1024.6" y1="2428.4" x2="1030.6" y2="2428.4" stroke="#222" stroke-width="1.5"/>
<text x="1037.8" y="2441.7" style="font-family:'Liberation Sans',Arial,sans-serif;font-weight:bold;font-size:38px">−10</text>
<line x1="1024.6" y1="2343.49" x2="1030.6" y2="2343.49" stroke="#222" stroke-width="1.5"/>
<text x="1037.8" y="2356.79" style="font-family:'Liberation Sans',Arial,sans-serif;font-weight:bold;font-size:38px">−8</text>
<line x1="1024.6" y1="2258.58" x2="1030.6" y2="2258.58" stroke="#222" stroke-width="1.5"/>
<text x="1037.8" y="2271.88" style="font-family:'Liberation Sans',Arial,sans-serif;font-weight:bold;font-size:38px">−6</text>
<line x1="1024.6" y1="2173.67" x2="1030.6" y2="2173.67" stroke="#222" stroke-width="1.5"/>
<text x="1037.8" y="2186.97" style="font-family:'Liberation Sans',Arial,sans-serif;font-weight:bold;font-size:38px">−4</text>
<line x1="1024.6" y1="2088.76" x2="1030.6" y2="2088.76" stroke="#222" stroke-width="1.5"/>
<text x="1037.8" y="2102.06" style="font-family:'Liberation Sans',Arial,sans-serif;font-weight:bold;font-size:38px">−2</text>
<line x1="1024.6" y1="2003.85" x2="1030.6" y2="2003.85" stroke="#222" stroke-width="1.5"/>
<text x="1037.8" y="2017.15" style="font-family:'Liberation Sans',Arial,sans-serif;font-weight:bold;font-size:38px">0</text>
<line x1="1024.6" y1="1918.94" x2="1030.6" y2="1918.94" stroke="#222" stroke-width="1.5"/>
<text x="1037.8" y="1932.24" style="font-family:'Liberation Sans',Arial,sans-serif;font-weight:bold;font-size:38px">2</text>
<line x1="1024.6" y1="1834.03" x2="1030.6" y2="1834.03" stroke="#222" stroke-width="1.5"/>
<text x="1037.8" y="1847.33" style="font-family:'Liberation Sans',Arial,sans-serif;font-weight:bold;font-size:38px">4</text>
<line x1="1024.6" y1="1749.12" x2="1030.6" y2="1749.12" stroke="#222" stroke-width="1.5"/>
<text x="1037.8" y="1762.42" style="font-family:'Liberation Sans',Arial,sans-serif;font-weight:bold;font-size:38px">6</text>
<line x1="1024.6" y1="1664.21" x2="1030.6" y2="1664.21" stroke="#222" stroke-width="1.5"/>
<text x="1037.8" y="1677.51" style="font-family:'Liberation Sans',Arial,sans-serif;font-weight:bold;font-size:38px">8</text>
<line x1="1024.6" y1="1579.3" x2="1030.6" y2="1579.3" stroke="#222" stroke-width="1.5"/>
<text x="1037.8" y="1592.6" style="font-family:'Liberation Sans',Arial,sans-serif;font-weight:bold;font-size:38px">10</text>
<text transform="translate(1145.3 2007.2) rotate(-90)" text-anchor="middle" style="font-family:'Liberation Sans',Arial,sans-serif;font-weight:bold;font-size:46px">DPD</text>
</g>
</svg></body></html>
